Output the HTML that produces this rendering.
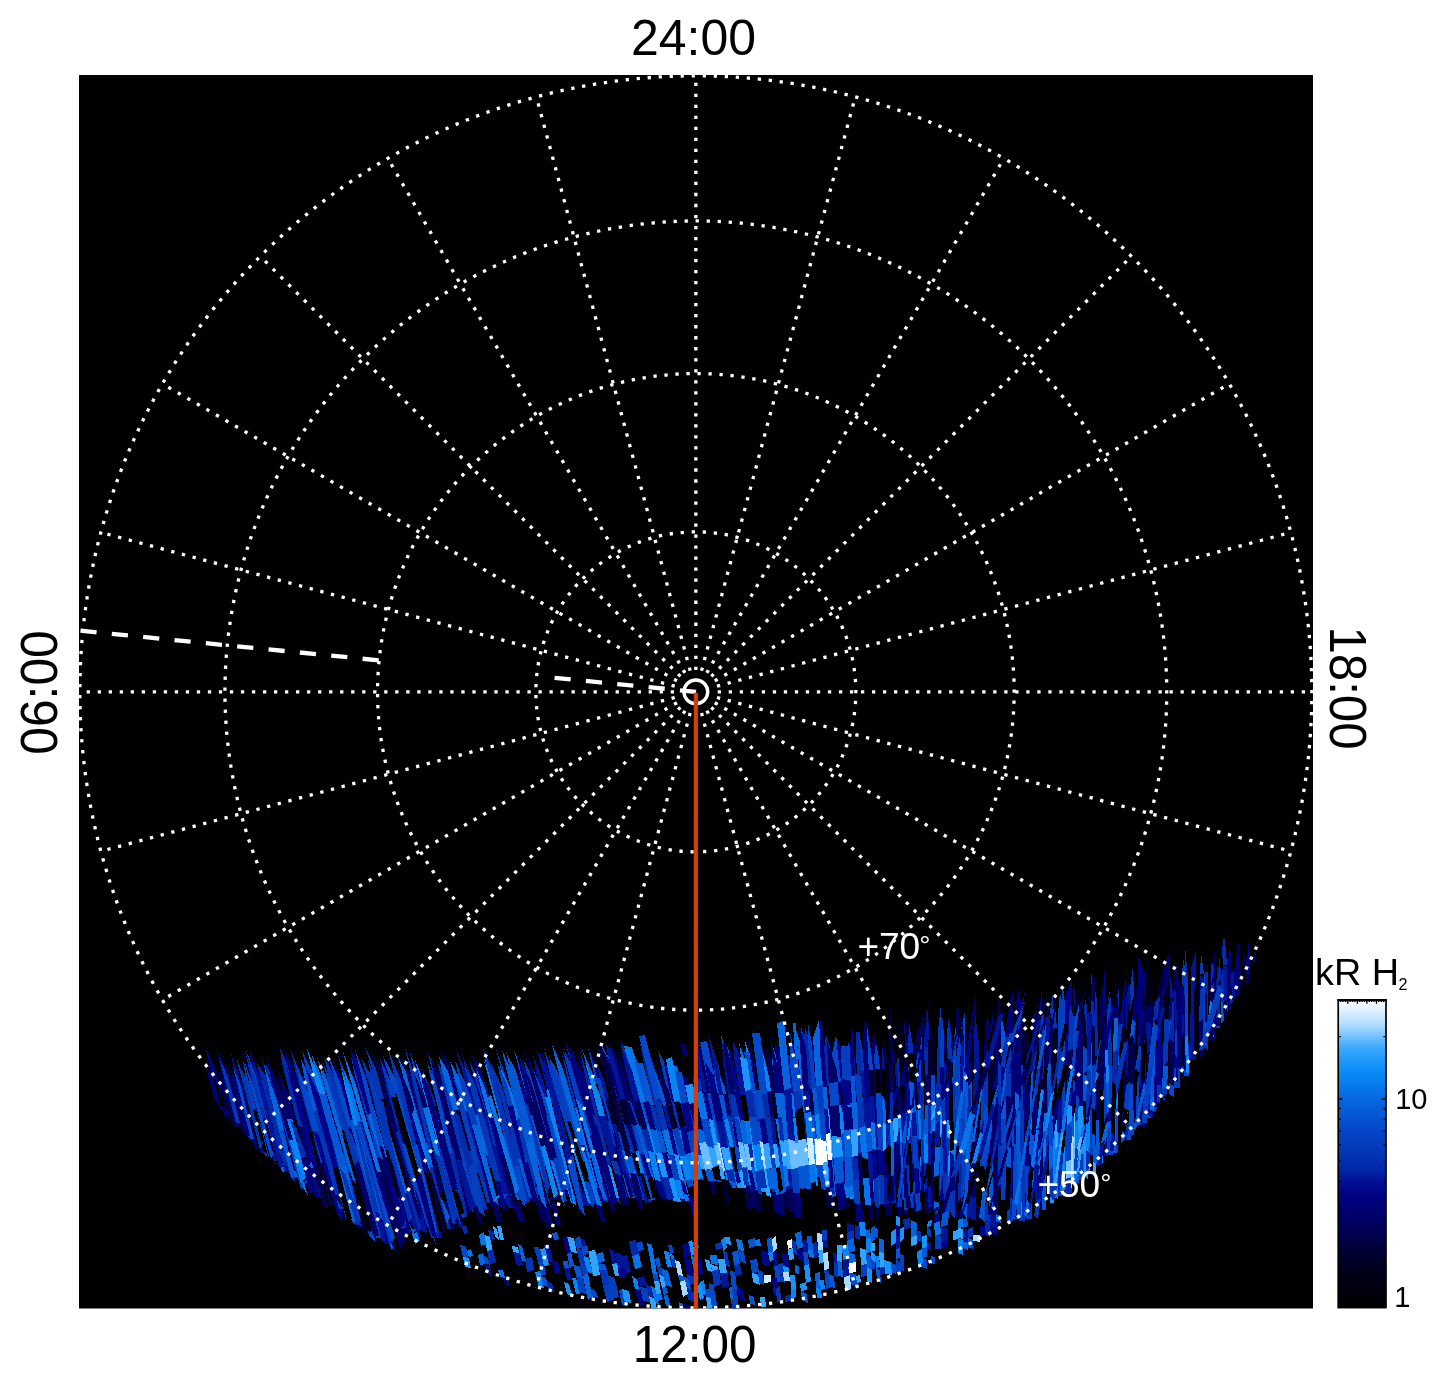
<!DOCTYPE html>
<html lang="en"><head><meta charset="utf-8"><title>Polar projection 24:00 06:00 12:00 18:00 kR H2</title>
<style>
html,body{margin:0;padding:0;background:#fff}
svg{display:block;will-change:transform}
text{font-family:"Liberation Sans","DejaVu Sans",sans-serif}
</style></head><body>
<svg width="1447" height="1384" viewBox="0 0 1447 1384">
<defs>
<clipPath id="box"><rect x="79" y="75" width="1234" height="1233.5"/></clipPath>
<linearGradient id="cb" x1="0" y1="0" x2="0" y2="1"><stop offset="0.000" stop-color="#ffffff"/><stop offset="0.081" stop-color="#b0dcff"/><stop offset="0.156" stop-color="#3aa8ff"/><stop offset="0.231" stop-color="#0a8cf8"/><stop offset="0.322" stop-color="#0668e0"/><stop offset="0.419" stop-color="#0448c8"/><stop offset="0.488" stop-color="#0338b8"/><stop offset="0.548" stop-color="#0228a8"/><stop offset="0.608" stop-color="#00088e"/><stop offset="0.647" stop-color="#000080"/><stop offset="0.728" stop-color="#000060"/><stop offset="0.808" stop-color="#000038"/><stop offset="0.888" stop-color="#000018"/><stop offset="1.000" stop-color="#000002"/></linearGradient>
</defs>
<rect width="1447" height="1384" fill="#fff"/>
<rect x="79" y="75" width="1234" height="1233.5" fill="#000"/>
<g clip-path="url(#box)">
<g shape-rendering="crispEdges" stroke="none">
<path fill="#acdaff" d="M716 1143L720 1143L725 1171L721 1171ZM728 1144L733 1144L738 1168L733 1168ZM817 1137L822 1137L824 1162L819 1162Z"/>
<path fill="#6bbdff" d="M759 1143L764 1143L767 1170L762 1170ZM1072 1113L1076 1113L1075 1182L1071 1182Z"/>
<path fill="#0335b5" d="M242 1111L247 1111L254 1139L249 1139ZM265 1064L275 1080L295 1150L290 1150L270 1080ZM340 1196L347 1196L353 1219L346 1219ZM342 1182L347 1182L358 1224L353 1224ZM361 1057L371 1075L390 1150L385 1150L366 1075ZM450 1180L455 1180L464 1214L459 1214ZM428 1053L439 1074L458 1146L452 1146L433 1074ZM434 1064L447 1094L462 1149L458 1149L443 1094ZM437 1061L447 1081L453 1102L448 1102L442 1081ZM448 1102L453 1102L472 1167L467 1167ZM467 1151L474 1151L490 1209L483 1209ZM470 1062L480 1083L497 1146L491 1146L474 1083ZM508 1148L512 1148L527 1204L523 1204ZM508 1135L512 1135L530 1202L526 1202ZM496 1049L508 1081L527 1152L523 1152L504 1081ZM544 1134L548 1134L562 1186L558 1186ZM562 1055L575 1088L580 1108L575 1108L570 1088ZM593 1141L598 1141L612 1193L607 1193ZM609 1151L614 1151L620 1174L615 1174ZM606 1121L610 1121L616 1146L612 1146ZM647 1155L651 1155L656 1177L652 1177ZM621 1041L629 1059L640 1103L636 1103L625 1059ZM647 1130L654 1130L660 1153L653 1153ZM699 1091L706 1091L711 1117L704 1117ZM737 1169L742 1169L744 1186L739 1186ZM753 1143L759 1143L763 1171L757 1171ZM765 1091L770 1091L773 1117L768 1117ZM801 1026L806 1046L809 1090L804 1090L801 1046ZM809 1164L814 1164L815 1182L810 1182ZM820 1113L827 1113L829 1140L822 1140ZM847 1184L852 1184L853 1198L848 1198ZM850 1158L854 1158L855 1184L851 1184ZM851 1184L855 1184L856 1196L852 1196ZM859 1031L863 1052L864 1073L857 1073L856 1052ZM871 1179L877 1179L878 1202L872 1202ZM897 1198L902 1198L902 1207L897 1207ZM902 1143L906 1143L907 1168L903 1168ZM906 1057L912 1057L912 1085L906 1085ZM906 1165L912 1165L912 1196L906 1196ZM910 1112L914 1112L915 1137L911 1137ZM915 1189L922 1189L922 1208L915 1208ZM921 1027L923 1051L923 1051L919 1051L919 1051ZM936 1178L940 1178L939 1214L935 1214ZM941 1003L942 1031L943 1057L939 1057L938 1031ZM948 1176L953 1176L953 1212L948 1212ZM952 1108L956 1108L956 1200L952 1200ZM984 1158L988 1158L988 1220L984 1220ZM1019 1065L1025 1065L1025 1174L1019 1174ZM1019 1174L1025 1174L1025 1221L1019 1221ZM1053 993L1054 1024L1053 1082L1047 1082L1048 1024ZM1047 1082L1053 1082L1052 1151L1046 1151ZM1110 989L1111 1006L1112 1077L1108 1077L1107 1006ZM1133 966L1134 995L1135 1043L1130 1043L1129 995ZM1156 1085L1162 1085L1162 1102L1156 1102ZM1183 957L1187 979L1188 1023L1183 1023L1182 979ZM1224 1002L1228 1002L1228 1011L1224 1011Z"/>
<path fill="#000012" d="M916 1010L921 1036L921 1052L914 1052L914 1036ZM919 1051L923 1051L924 1081L920 1081ZM987 1022L989 1040L989 1063L985 1063L985 1040ZM1149 959L1153 989L1152 1059L1147 1059L1148 989Z"/>
<path fill="#0984f3" d="M725 1171L731 1171L732 1180L726 1180ZM729 1118L734 1118L738 1145L733 1145ZM745 1041L752 1060L757 1093L752 1093L747 1060ZM759 1119L763 1119L767 1145L763 1145ZM775 1141L781 1141L785 1168L779 1168ZM795 1143L800 1143L803 1169L798 1169ZM823 1164L830 1164L832 1186L825 1186ZM828 1137L835 1137L836 1159L829 1159ZM837 1188L842 1188L843 1196L838 1196ZM837 1105L842 1105L844 1135L839 1135ZM921 1133L925 1133L926 1163L922 1163ZM925 1135L930 1135L930 1163L925 1163ZM928 1106L935 1106L936 1131L929 1131ZM1051 1116L1057 1116L1058 1197L1052 1197ZM1061 1120L1065 1120L1066 1190L1062 1190ZM1075 1114L1079 1114L1079 1159L1075 1159Z"/>
<path fill="#0774e8" d="M484 1054L491 1070L512 1148L508 1148L487 1070ZM575 1108L580 1108L601 1188L596 1188ZM578 1104L583 1104L604 1182L599 1182ZM653 1153L660 1153L667 1178L660 1178ZM660 1178L667 1178L672 1197L665 1197ZM667 1180L674 1180L678 1197L671 1197ZM680 1179L685 1179L690 1201L685 1201ZM742 1146L747 1146L751 1167L746 1167ZM743 1121L750 1121L754 1144L747 1144ZM756 1040L764 1072L766 1092L761 1092L759 1072ZM773 1119L779 1119L781 1141L775 1141ZM835 1133L840 1133L841 1163L836 1163ZM841 1159L846 1159L847 1187L842 1187ZM846 1106L850 1106L852 1131L848 1131ZM898 1116L902 1116L903 1142L899 1142ZM915 1110L922 1110L922 1139L915 1139ZM1043 1113L1047 1113L1046 1157L1042 1157Z"/>
<path fill="#033fbf" d="M243 1061L251 1079L270 1156L265 1156L246 1079ZM262 1104L267 1104L280 1153L275 1153ZM290 1150L295 1150L306 1189L301 1189ZM302 1050L315 1078L319 1092L312 1092L308 1078ZM340 1154L345 1154L361 1221L356 1221ZM349 1145L356 1145L383 1238L376 1238ZM351 1057L362 1076L384 1157L377 1157L355 1076ZM400 1139L405 1139L429 1228L424 1228ZM403 1132L410 1132L431 1210L424 1210ZM458 1149L462 1149L478 1206L474 1206ZM489 1121L496 1121L518 1197L511 1197ZM500 1135L505 1135L522 1200L517 1200ZM523 1059L531 1073L548 1134L544 1134L527 1073ZM558 1186L562 1186L565 1198L561 1198ZM542 1116L549 1116L570 1190L563 1190ZM564 1048L578 1082L583 1104L578 1104L573 1082ZM607 1193L612 1193L613 1198L608 1198ZM588 1048L597 1070L604 1098L600 1098L593 1070ZM617 1132L622 1132L627 1150L622 1150ZM635 1178L639 1178L645 1200L641 1200ZM636 1149L641 1149L649 1176L644 1176ZM639 1126L643 1126L651 1155L647 1155ZM634 1054L649 1084L653 1101L646 1101L642 1084ZM673 1132L677 1132L682 1155L678 1155ZM658 1050L670 1073L677 1103L670 1103L663 1073ZM683 1132L688 1132L693 1153L688 1153ZM682 1107L689 1107L694 1130L687 1130ZM687 1130L694 1130L699 1155L692 1155ZM689 1106L694 1106L699 1129L694 1129ZM701 1166L706 1166L708 1174L703 1174ZM701 1143L706 1143L712 1170L707 1170ZM707 1170L712 1170L714 1179L709 1179ZM710 1146L717 1146L721 1171L714 1171ZM700 1044L710 1063L716 1095L710 1095L704 1063ZM715 1119L721 1119L726 1145L720 1145ZM725 1147L729 1147L733 1169L729 1169ZM719 1092L724 1092L729 1120L724 1120ZM733 1145L738 1145L742 1169L737 1169ZM730 1094L735 1094L739 1117L734 1117ZM738 1147L743 1147L747 1171L742 1171ZM752 1093L757 1093L760 1117L755 1117ZM774 1167L779 1167L782 1191L777 1191ZM784 1114L788 1114L791 1140L787 1140ZM786 1088L791 1088L793 1119L788 1119ZM793 1169L798 1169L800 1191L795 1191ZM797 1115L801 1115L803 1142L799 1142ZM810 1111L816 1111L818 1139L812 1139ZM839 1135L844 1135L846 1159L841 1159ZM866 1152L870 1152L871 1181L867 1181ZM866 1102L872 1102L874 1124L868 1124ZM875 1096L882 1096L884 1125L877 1125ZM904 1198L908 1198L908 1210L904 1210ZM906 1085L912 1085L912 1111L906 1111ZM914 1052L921 1052L922 1082L915 1082ZM939 1057L943 1057L943 1099L939 1099ZM942 1122L947 1122L949 1212L944 1212ZM956 1064L961 1064L961 1145L956 1145ZM960 1119L966 1119L966 1214L960 1214ZM981 1076L986 1076L985 1166L980 1166ZM1000 1119L1007 1119L1008 1200L1001 1200ZM1007 1199L1013 1199L1013 1221L1007 1221ZM1025 1166L1031 1166L1032 1219L1026 1219ZM1060 991L1063 1014L1062 1084L1057 1084L1058 1014ZM1057 1192L1062 1192L1062 1196L1057 1196ZM1063 986L1065 1004L1065 1079L1061 1079L1061 1004ZM1061 1079L1065 1079L1065 1120L1061 1120ZM1065 1114L1072 1114L1072 1193L1065 1193ZM1079 1154L1084 1154L1084 1180L1079 1180ZM1088 1094L1093 1094L1095 1155L1090 1155ZM1103 1073L1108 1073L1109 1121L1104 1121ZM1137 1068L1142 1068L1141 1125L1136 1125ZM1147 1059L1152 1059L1152 1113L1147 1113ZM1152 1107L1157 1107L1156 1112L1151 1112ZM1174 1068L1180 1068L1180 1088L1174 1088ZM1205 972L1207 990L1206 1047L1200 1047L1201 990ZM1216 1020L1220 1020L1220 1028L1216 1028Z"/>
<path fill="#000588" d="M249 1049L258 1070L267 1104L262 1104L253 1070ZM312 1092L319 1092L336 1154L329 1154ZM377 1219L384 1219L391 1243L384 1243ZM346 1064L357 1081L365 1113L359 1113L351 1081ZM368 1052L380 1084L386 1104L381 1104L375 1084ZM484 1048L495 1074L512 1135L508 1135L491 1074ZM552 1128L557 1128L572 1184L567 1184ZM541 1049L553 1080L570 1148L565 1148L548 1080ZM596 1188L601 1188L604 1200L599 1200ZM569 1049L578 1068L598 1141L593 1141L573 1068ZM570 1047L583 1074L598 1127L593 1127L578 1074ZM584 1050L595 1079L614 1151L609 1151L590 1079ZM616 1147L622 1147L628 1173L622 1173ZM629 1102L634 1102L639 1124L634 1124ZM688 1153L693 1153L698 1178L693 1178ZM699 1132L704 1132L706 1143L701 1143ZM721 1121L725 1121L729 1147L725 1147ZM734 1117L739 1117L743 1147L738 1147ZM746 1095L752 1095L755 1118L749 1118ZM755 1092L759 1092L763 1119L759 1119ZM767 1167L771 1167L775 1193L771 1193ZM779 1168L785 1168L787 1193L781 1193ZM793 1032L800 1062L802 1091L797 1091L795 1062ZM818 1088L825 1088L827 1113L820 1113ZM829 1159L836 1159L838 1187L831 1187ZM831 1187L838 1187L838 1193L831 1193ZM837 1036L843 1057L844 1081L839 1081L838 1057ZM849 1076L856 1076L857 1102L850 1102ZM853 1156L860 1156L861 1184L854 1184ZM854 1184L861 1184L862 1198L855 1198ZM879 1176L886 1176L888 1206L881 1206ZM929 1131L936 1131L937 1156L930 1156ZM937 1066L941 1066L940 1130L936 1130ZM942 1015L946 1045L947 1122L942 1122L941 1045ZM996 1107L1001 1107L1001 1213L996 1213ZM1072 979L1072 997L1072 1074L1065 1074L1065 997ZM1073 980L1077 1005L1078 1037L1074 1037L1073 1005ZM1104 981L1107 1010L1108 1073L1103 1073L1102 1010ZM1152 1058L1157 1058L1157 1107L1152 1107ZM1157 1013L1163 1013L1162 1085L1156 1085ZM1183 1023L1188 1023L1188 1070L1183 1070Z"/>
<path fill="#0664dd" d="M291 1171L296 1171L298 1177L293 1177ZM283 1059L292 1080L314 1168L310 1168L288 1080ZM314 1118L320 1118L331 1162L325 1162ZM382 1218L388 1218L397 1249L391 1249ZM398 1057L408 1076L434 1167L429 1167L403 1076ZM450 1061L459 1077L468 1111L463 1111L454 1077ZM474 1115L478 1115L490 1155L486 1155ZM567 1184L572 1184L576 1203L571 1203ZM622 1150L627 1150L635 1178L630 1178ZM634 1124L639 1124L647 1153L642 1153ZM668 1131L673 1131L679 1155L674 1155ZM678 1155L682 1155L689 1182L685 1182ZM675 1072L682 1072L689 1107L682 1107ZM700 1114L704 1114L710 1143L706 1143ZM729 1169L733 1169L736 1188L732 1188ZM727 1045L736 1077L739 1095L734 1095L731 1077ZM750 1167L757 1167L760 1190L753 1190ZM741 1047L750 1077L752 1095L746 1095L744 1077ZM768 1117L773 1117L776 1146L771 1146ZM772 1044L778 1061L782 1094L776 1094L772 1061ZM815 1113L820 1113L822 1137L817 1137ZM836 1163L841 1163L842 1188L837 1188ZM834 1043L840 1073L841 1084L836 1084L835 1073ZM850 1102L857 1102L859 1132L852 1132ZM859 1158L866 1158L867 1181L860 1181ZM877 1125L884 1125L885 1152L878 1152ZM890 1118L895 1118L895 1146L890 1146ZM1057 1133L1062 1133L1062 1192L1057 1192ZM1082 1116L1089 1116L1090 1171L1083 1171ZM1114 1042L1119 1042L1117 1137L1112 1137Z"/>
<path fill="#0449c9" d="M383 1056L395 1078L410 1132L403 1132L388 1078ZM455 1061L469 1091L479 1130L472 1130L462 1091ZM523 1152L527 1152L539 1200L535 1200ZM549 1056L563 1082L585 1162L578 1162L556 1082ZM584 1160L589 1160L601 1205L596 1205ZM628 1154L632 1154L639 1178L635 1178ZM601 1043L612 1064L637 1149L630 1149L605 1064ZM642 1153L647 1153L653 1178L648 1178ZM654 1129L661 1129L667 1156L660 1156ZM665 1102L669 1102L677 1132L673 1132ZM697 1145L702 1145L706 1166L701 1166ZM708 1095L712 1095L715 1117L711 1117ZM711 1117L715 1117L720 1143L716 1143ZM710 1095L716 1095L721 1119L715 1119ZM733 1168L738 1168L742 1188L737 1188ZM771 1146L776 1146L779 1167L774 1167ZM778 1118L784 1118L787 1145L781 1145ZM802 1168L806 1168L807 1181L803 1181ZM797 1091L802 1091L805 1114L800 1114ZM814 1165L820 1165L821 1177L815 1177ZM819 1162L824 1162L826 1188L821 1188ZM843 1131L848 1131L850 1160L845 1160ZM845 1160L850 1160L852 1184L847 1184ZM864 1126L868 1126L870 1152L866 1152ZM906 1111L912 1111L912 1143L906 1143ZM928 1075L935 1075L935 1106L928 1106ZM939 1099L943 1099L944 1203L940 1203ZM957 1016L957 1047L956 1108L952 1108L953 1047ZM965 1011L965 1036L966 1119L960 1119L959 1036ZM985 1063L989 1063L988 1158L984 1158ZM1013 1144L1020 1144L1018 1219L1011 1219ZM1108 1119L1112 1119L1113 1155L1109 1155ZM1126 1076L1131 1076L1131 1140L1126 1140ZM1147 1113L1152 1113L1152 1118L1147 1118ZM1183 1070L1188 1070L1189 1076L1184 1076Z"/>
<path fill="#000055" d="M223 1055L236 1089L248 1133L243 1133L231 1089ZM234 1062L244 1084L249 1106L245 1106L240 1084ZM263 1063L274 1090L296 1171L291 1171L269 1090ZM300 1063L314 1095L320 1118L314 1118L308 1095ZM318 1064L328 1090L345 1154L340 1154L323 1090ZM359 1113L365 1113L389 1201L383 1201ZM377 1157L384 1157L407 1242L400 1242ZM386 1139L390 1139L403 1186L399 1186ZM373 1054L384 1072L399 1132L393 1132L378 1072ZM449 1223L454 1223L456 1229L451 1229ZM420 1062L432 1094L440 1123L435 1123L427 1094ZM435 1123L440 1123L455 1180L450 1180ZM474 1206L478 1206L483 1223L479 1223ZM492 1206L499 1206L503 1221L496 1221ZM535 1200L539 1200L545 1222L541 1222ZM516 1114L521 1114L544 1201L539 1201ZM539 1201L544 1201L551 1228L546 1228ZM531 1110L538 1110L561 1200L554 1200ZM551 1104L555 1104L573 1176L569 1176ZM608 1198L613 1198L616 1212L611 1212ZM615 1174L620 1174L627 1205L622 1205ZM619 1175L623 1175L630 1203L626 1203ZM636 1199L641 1199L644 1209L639 1209ZM623 1100L628 1100L634 1124L629 1124ZM636 1103L640 1103L646 1125L642 1125ZM665 1132L669 1132L675 1157L671 1157ZM655 1055L665 1083L669 1102L665 1102L661 1083ZM670 1103L677 1103L683 1129L676 1129ZM684 1083L689 1083L694 1106L689 1106ZM709 1179L714 1179L717 1194L712 1194ZM694 1086L698 1086L704 1114L700 1114ZM744 1188L749 1188L752 1210L747 1210ZM764 1116L769 1116L771 1141L766 1141ZM766 1045L773 1068L776 1094L770 1094L767 1068ZM786 1186L792 1186L795 1211L789 1211ZM813 1083L818 1083L820 1113L815 1113ZM834 1110L839 1110L840 1133L835 1133ZM843 1198L848 1198L849 1208L844 1208ZM844 1080L848 1080L850 1106L846 1106ZM860 1181L867 1181L868 1205L861 1205ZM868 1200L872 1200L874 1220L870 1220ZM874 1150L878 1150L879 1180L875 1180ZM874 1069L881 1069L882 1096L875 1096ZM883 1038L888 1064L888 1064L882 1064L882 1064ZM886 1202L892 1202L892 1216L886 1216ZM889 1063L894 1063L894 1090L889 1090ZM897 1207L902 1207L903 1215L898 1215ZM896 1088L900 1088L902 1116L898 1116ZM906 1143L912 1143L912 1165L906 1165ZM906 1196L912 1196L912 1208L906 1208ZM912 1164L916 1164L917 1193L913 1193ZM930 1156L937 1156L937 1189L930 1189ZM957 1001L961 1020L961 1064L956 1064L956 1020ZM1039 1095L1044 1095L1043 1150L1038 1150ZM1047 1009L1047 1035L1047 1113L1043 1113L1043 1035ZM1092 1056L1098 1056L1099 1120L1093 1120ZM1102 981L1104 1009L1104 1090L1099 1090L1099 1009ZM1141 961L1143 984L1142 1068L1137 1068L1138 984ZM1139 1087L1146 1087L1147 1121L1140 1121ZM1164 1092L1170 1092L1170 1094L1164 1094ZM1223 948L1228 981L1228 1002L1224 1002L1224 981ZM1245 950L1249 971L1249 983L1242 983L1242 971Z"/>
<path fill="#000040" d="M241 1049L255 1079L277 1159L270 1159L248 1079ZM342 1065L356 1097L360 1113L354 1113L350 1097ZM383 1201L389 1201L402 1246L396 1246ZM357 1053L369 1083L384 1144L380 1144L365 1083ZM434 1211L440 1211L446 1232L440 1232ZM440 1050L450 1067L474 1151L467 1151L443 1067ZM485 1194L490 1194L494 1209L489 1209ZM523 1047L539 1080L549 1116L542 1116L532 1080ZM569 1176L573 1176L580 1202L576 1202ZM576 1202L580 1202L582 1211L578 1211ZM561 1116L566 1116L587 1193L582 1193ZM603 1099L609 1099L616 1124L610 1124ZM617 1047L624 1063L634 1102L629 1102L619 1063ZM648 1178L653 1178L659 1200L654 1200ZM652 1177L656 1177L662 1197L658 1197ZM640 1104L647 1104L654 1130L647 1130ZM646 1101L653 1101L661 1129L654 1129ZM648 1048L659 1075L666 1105L661 1105L654 1075ZM723 1186L727 1186L730 1204L726 1204ZM753 1190L760 1190L763 1212L756 1212ZM770 1094L776 1094L779 1119L773 1119ZM781 1193L787 1193L789 1210L783 1210ZM825 1186L832 1186L833 1208L826 1208ZM826 1086L833 1086L834 1112L827 1112ZM832 1048L837 1068L838 1084L833 1084L832 1068ZM858 1104L865 1104L865 1128L858 1128ZM876 1200L880 1200L880 1218L876 1218ZM891 1026L895 1053L895 1064L890 1064L890 1053ZM891 1088L896 1088L898 1118L893 1118ZM896 1171L901 1171L902 1198L897 1198ZM909 1082L913 1082L914 1112L910 1112ZM925 1163L930 1163L930 1189L925 1189ZM926 1008L934 1041L934 1043L927 1043L927 1041ZM930 1189L937 1189L938 1210L931 1210ZM956 1145L961 1145L960 1218L955 1218ZM976 1205L980 1205L980 1220L976 1220ZM1007 1112L1013 1112L1013 1199L1007 1199ZM1023 1017L1029 1044L1029 1091L1023 1091L1023 1044ZM1032 1048L1037 1048L1035 1135L1030 1135ZM1074 1037L1078 1037L1079 1114L1075 1114ZM1081 1037L1088 1037L1089 1116L1082 1116ZM1115 976L1120 1006L1119 1042L1114 1042L1115 1006ZM1123 1036L1128 1036L1128 1085L1123 1085ZM1130 1043L1135 1043L1136 1130L1131 1130ZM1164 965L1164 987L1163 1013L1157 1013L1158 987Z"/>
<path fill="#1994fa" d="M667 1154L671 1154L677 1180L673 1180ZM757 1171L763 1171L766 1192L760 1192ZM781 1145L787 1145L790 1167L784 1167ZM787 1140L791 1140L793 1167L789 1167ZM799 1142L803 1142L806 1168L802 1168ZM803 1140L808 1140L810 1165L805 1165ZM947 1120L952 1120L953 1176L948 1176ZM1078 1106L1083 1106L1084 1154L1079 1154Z"/>
<path fill="#00002e" d="M245 1106L249 1106L260 1147L256 1147ZM283 1103L289 1103L307 1175L301 1175ZM301 1175L307 1175L311 1192L305 1192ZM349 1172L353 1172L368 1233L364 1233ZM424 1228L429 1228L430 1232L425 1232ZM411 1139L416 1139L427 1180L422 1180ZM489 1155L494 1155L508 1206L503 1206ZM660 1129L664 1129L671 1154L667 1154ZM716 1093L720 1093L725 1121L721 1121ZM719 1046L728 1079L730 1091L725 1091L723 1079ZM725 1091L730 1091L734 1118L729 1118ZM776 1094L782 1094L784 1118L778 1118ZM833 1084L838 1084L839 1110L834 1110ZM883 1094L889 1094L890 1123L884 1123ZM889 1090L894 1090L895 1118L890 1118ZM927 1043L934 1043L935 1075L928 1075ZM987 1025L991 1055L992 1117L987 1117L986 1055ZM992 1008L996 1023L996 1105L992 1105L992 1023ZM1037 992L1038 1015L1038 1099L1034 1099L1034 1015ZM1065 1074L1072 1074L1072 1114L1065 1114ZM1127 973L1129 988L1128 1036L1123 1036L1124 988ZM1237 940L1241 973L1241 990L1236 990L1236 973Z"/>
<path fill="#ffffff" d="M812 1139L818 1139L820 1165L814 1165Z"/>
<path fill="#011599" d="M247 1099L251 1099L265 1153L261 1153ZM283 1165L290 1165L291 1171L284 1171ZM310 1168L314 1168L322 1198L318 1198ZM329 1154L336 1154L347 1196L340 1196ZM323 1109L328 1109L347 1182L342 1182ZM397 1197L402 1197L411 1232L406 1232ZM404 1193L409 1193L421 1237L416 1237ZM389 1054L401 1082L416 1139L411 1139L396 1082ZM422 1180L427 1180L442 1238L437 1238ZM463 1111L468 1111L490 1194L485 1194ZM456 1048L467 1074L478 1115L474 1115L463 1074ZM462 1054L474 1081L479 1101L474 1101L469 1081ZM491 1146L497 1146L514 1208L508 1208ZM473 1056L486 1085L496 1121L489 1121L479 1085ZM508 1060L519 1091L527 1124L523 1124L515 1091ZM523 1124L527 1124L541 1179L537 1179ZM520 1058L531 1081L538 1110L531 1110L524 1081ZM537 1051L546 1069L555 1104L551 1104L542 1069ZM582 1193L587 1193L591 1206L586 1206ZM593 1057L604 1079L609 1099L603 1099L598 1079ZM610 1124L616 1124L622 1147L616 1147ZM630 1178L635 1178L641 1199L636 1199ZM609 1045L617 1061L628 1100L623 1100L612 1061ZM714 1171L721 1171L723 1182L716 1182ZM724 1120L729 1120L733 1144L728 1144ZM737 1117L742 1117L747 1146L742 1146ZM746 1167L751 1167L755 1190L750 1190ZM733 1041L741 1058L747 1095L740 1095L734 1058ZM805 1112L810 1112L812 1137L807 1137ZM836 1084L841 1084L842 1105L837 1105ZM841 1104L846 1104L848 1131L843 1131ZM852 1039L856 1070L856 1076L849 1076L849 1070ZM861 1071L865 1071L867 1101L863 1101ZM863 1101L867 1101L868 1126L864 1126ZM867 1181L871 1181L872 1200L868 1200ZM884 1123L890 1123L890 1146L884 1146ZM890 1172L895 1172L896 1200L891 1200ZM895 1063L899 1063L900 1088L896 1088ZM899 1142L903 1142L904 1168L900 1168ZM909 1056L913 1056L913 1082L909 1082ZM915 1082L922 1082L922 1110L915 1110ZM927 1008L929 1028L929 1047L924 1047L924 1028ZM949 1015L952 1036L952 1120L947 1120L947 1036ZM966 1168L973 1168L973 1218L966 1218ZM975 1013L979 1043L978 1119L973 1119L974 1043ZM971 1197L976 1197L976 1220L971 1220ZM1034 1150L1038 1150L1039 1212L1035 1212ZM1057 1084L1062 1084L1062 1133L1057 1133ZM1104 1121L1109 1121L1109 1156L1104 1156ZM1129 983L1131 999L1131 1076L1126 1076L1126 999ZM1138 1037L1145 1037L1146 1087L1139 1087ZM1196 950L1196 969L1195 1060L1190 1060L1191 969ZM1218 960L1220 986L1220 1020L1216 1020L1216 986Z"/>
<path fill="#00001d" d="M206 1049L221 1076L230 1110L223 1110L214 1076ZM658 1105L662 1105L669 1132L665 1132ZM677 1105L682 1105L688 1132L683 1132ZM865 1019L869 1037L871 1070L865 1070L863 1037ZM865 1070L871 1070L872 1102L866 1102ZM878 1034L880 1055L881 1069L874 1069L873 1055ZM882 1064L888 1064L889 1094L883 1094ZM901 1010L904 1042L905 1060L901 1060L900 1042ZM901 1086L905 1086L906 1113L902 1113ZM909 1022L911 1040L912 1057L906 1057L905 1040ZM969 1018L972 1037L972 1082L965 1082L965 1037ZM1022 1005L1024 1035L1025 1065L1019 1065L1018 1035ZM1050 1012L1056 1041L1057 1116L1051 1116L1050 1041ZM1197 962L1200 995L1200 1056L1194 1056L1194 995ZM1221 970L1226 1004L1226 1022L1221 1022L1221 1004ZM1243 954L1245 979L1245 987L1241 987L1241 979Z"/>
<path fill="#022aaa" d="M237 1059L248 1086L251 1099L247 1099L244 1086ZM257 1063L268 1079L290 1165L283 1165L261 1079ZM291 1051L305 1083L324 1155L317 1155L298 1083ZM354 1113L360 1113L388 1218L382 1218ZM393 1132L399 1132L412 1185L406 1185ZM380 1059L393 1093L405 1139L400 1139L388 1093ZM424 1210L431 1210L438 1238L431 1238ZM429 1167L434 1167L451 1229L446 1229ZM410 1062L421 1091L440 1161L436 1161L417 1091ZM486 1155L490 1155L503 1204L499 1204ZM509 1125L516 1125L535 1199L528 1199ZM546 1054L558 1085L566 1116L561 1116L553 1085ZM557 1056L566 1076L589 1160L584 1160L561 1076ZM599 1182L604 1182L609 1202L604 1202ZM637 1175L644 1175L652 1202L645 1202ZM629 1124L634 1124L641 1149L636 1149ZM660 1156L667 1156L674 1180L667 1180ZM640 1043L649 1068L658 1103L654 1103L645 1068ZM654 1103L658 1103L664 1129L660 1129ZM644 1042L652 1060L662 1105L658 1105L648 1060ZM667 1061L672 1061L682 1105L677 1105ZM710 1040L718 1063L724 1092L719 1092L713 1063ZM723 1038L731 1069L735 1094L730 1094L726 1069ZM747 1144L754 1144L757 1167L750 1167ZM755 1117L760 1117L764 1143L759 1143ZM766 1141L771 1141L774 1166L769 1166ZM769 1166L774 1166L777 1192L772 1192ZM759 1035L767 1067L770 1091L765 1091L762 1067ZM784 1167L790 1167L792 1186L786 1186ZM782 1093L786 1093L788 1114L784 1114ZM790 1031L796 1062L799 1087L795 1087L792 1062ZM805 1165L810 1165L812 1184L807 1184ZM805 1027L810 1041L814 1088L808 1088L804 1041ZM826 1034L831 1050L833 1086L826 1086L824 1050ZM848 1131L852 1131L854 1158L850 1158ZM858 1128L865 1128L866 1158L859 1158ZM878 1152L885 1152L886 1176L879 1176ZM891 1200L896 1200L896 1203L891 1203ZM911 1137L915 1137L916 1164L912 1164ZM920 1081L924 1081L924 1105L920 1105ZM922 1163L926 1163L927 1192L923 1192ZM924 1047L929 1047L930 1075L925 1075ZM1041 1011L1044 1034L1044 1095L1039 1095L1039 1034ZM1086 997L1088 1024L1088 1037L1081 1037L1081 1024ZM1091 972L1097 999L1098 1056L1092 1056L1091 999ZM1094 1163L1100 1163L1100 1165L1094 1165ZM1108 1077L1112 1077L1112 1119L1108 1119ZM1220 955L1221 981L1220 1018L1216 1018L1217 981Z"/>
<path fill="#0557d3" d="M321 1063L332 1093L353 1172L349 1172L328 1093ZM349 1120L356 1120L384 1219L377 1219ZM381 1104L386 1104L409 1193L404 1193ZM506 1052L516 1071L535 1139L530 1139L511 1071ZM529 1115L533 1115L546 1166L542 1166ZM622 1173L628 1173L635 1198L629 1198ZM644 1176L649 1176L655 1200L650 1200ZM649 1151L653 1151L661 1179L657 1179ZM682 1155L689 1155L694 1177L687 1177ZM699 1043L708 1073L712 1095L708 1095L704 1073ZM720 1145L726 1145L731 1171L725 1171ZM762 1170L767 1170L770 1190L765 1190ZM798 1169L803 1169L805 1186L800 1186ZM843 1042L847 1068L848 1080L844 1080L843 1068ZM874 1126L878 1126L878 1150L874 1150ZM902 1113L906 1113L906 1143L902 1143ZM920 1105L924 1105L925 1133L921 1133ZM925 1105L930 1105L930 1135L925 1135ZM965 1082L972 1082L973 1168L966 1168ZM987 1117L992 1117L994 1208L989 1208ZM1002 1019L1006 1038L1007 1119L1000 1119L999 1038ZM1030 1135L1035 1135L1034 1188L1029 1188ZM1042 1157L1046 1157L1046 1210L1042 1210ZM1075 1159L1079 1159L1079 1183L1075 1183ZM1087 1043L1092 1043L1093 1094L1088 1094ZM1093 1120L1099 1120L1100 1163L1094 1163ZM1112 1137L1117 1137L1117 1153L1112 1153Z"/>
<path fill="#000078" d="M204 1060L218 1090L222 1103L216 1103L212 1090ZM284 1049L297 1076L318 1156L311 1156L290 1076ZM317 1155L324 1155L337 1206L330 1206ZM356 1221L361 1221L363 1228L358 1228ZM345 1146L350 1146L373 1232L368 1232ZM326 1057L339 1083L356 1145L349 1145L332 1083ZM332 1058L347 1090L356 1120L349 1120L340 1090ZM396 1061L410 1093L413 1104L407 1104L404 1093ZM443 1201L448 1201L454 1223L449 1223ZM449 1211L453 1211L457 1224L453 1224ZM411 1057L421 1072L441 1145L435 1145L415 1072ZM435 1145L441 1145L461 1217L455 1217ZM467 1167L472 1167L485 1212L480 1212ZM472 1130L479 1130L499 1206L492 1206ZM537 1179L541 1179L547 1200L543 1200ZM543 1200L547 1200L553 1224L549 1224ZM516 1062L523 1076L533 1115L529 1115L519 1076ZM551 1201L555 1201L561 1226L557 1226ZM563 1190L570 1190L572 1196L565 1196ZM565 1148L570 1148L585 1205L580 1205ZM600 1098L604 1098L610 1121L606 1121ZM597 1045L609 1075L632 1154L628 1154L605 1075ZM630 1149L637 1149L644 1175L637 1175ZM621 1051L632 1080L637 1102L633 1102L628 1080ZM642 1125L646 1125L653 1151L649 1151ZM688 1196L692 1196L698 1222L694 1222ZM704 1117L711 1117L717 1146L710 1146ZM772 1192L777 1192L780 1213L775 1213ZM789 1167L793 1167L796 1192L792 1192ZM795 1191L800 1191L802 1217L797 1217ZM800 1114L805 1114L808 1140L803 1140ZM804 1090L809 1090L810 1112L805 1112ZM827 1112L834 1112L835 1137L828 1137ZM838 1196L843 1196L843 1210L838 1210ZM855 1198L862 1198L863 1222L856 1222ZM869 1154L875 1154L877 1179L871 1179ZM885 1174L891 1174L892 1202L886 1202ZM889 1033L894 1060L894 1063L889 1063L889 1060ZM901 1060L905 1060L905 1086L901 1086ZM904 1210L908 1210L908 1214L904 1214ZM908 1021L912 1041L913 1056L909 1056L908 1041ZM925 1075L930 1075L930 1105L925 1105ZM936 1130L940 1130L940 1178L936 1178ZM989 1208L994 1208L994 1212L989 1212ZM989 1212L994 1212L994 1214L989 1214ZM998 1009L1001 1026L1001 1107L996 1107L996 1026ZM1019 988L1022 1008L1021 1065L1014 1065L1015 1008ZM1014 1065L1021 1065L1020 1144L1013 1144ZM1023 1091L1029 1091L1031 1166L1025 1166ZM1036 1005L1037 1029L1037 1048L1032 1048L1032 1029ZM1034 1099L1038 1099L1038 1150L1034 1150ZM1081 998L1082 1019L1083 1106L1078 1106L1077 1019ZM1083 1171L1090 1171L1090 1175L1083 1175ZM1088 994L1092 1017L1092 1043L1087 1043L1087 1017ZM1123 1085L1128 1085L1127 1139L1122 1139ZM1138 957L1145 972L1145 1037L1138 1037L1138 972ZM1156 1102L1162 1102L1162 1104L1156 1104ZM1162 1018L1166 1018L1165 1096L1161 1096ZM1181 976L1185 998L1185 1069L1180 1069L1180 998ZM1216 1018L1220 1018L1220 1026L1216 1026ZM1239 940L1239 971L1239 995L1234 995L1234 971Z"/>
<path fill="#33a4fe" d="M807 1137L812 1137L814 1164L809 1164ZM822 1140L829 1140L830 1164L823 1164ZM852 1132L859 1132L860 1156L853 1156ZM893 1118L898 1118L899 1142L894 1142Z"/>
<path fill="#000068" d="M223 1110L230 1110L232 1118L225 1118ZM216 1048L229 1074L242 1127L235 1127L222 1074ZM275 1153L280 1153L284 1165L279 1165ZM293 1177L298 1177L298 1179L293 1179ZM325 1162L331 1162L345 1217L339 1217ZM396 1246L402 1246L403 1249L397 1249ZM380 1144L384 1144L406 1229L402 1229ZM407 1104L413 1104L440 1211L434 1211ZM402 1057L414 1084L431 1143L426 1143L409 1084ZM455 1217L461 1217L464 1227L458 1227ZM437 1112L444 1112L469 1211L462 1211ZM452 1146L458 1146L475 1211L469 1211ZM512 1201L519 1201L525 1221L518 1221ZM530 1139L535 1139L553 1200L548 1200ZM596 1205L601 1205L606 1222L601 1222ZM593 1127L598 1127L618 1199L613 1199ZM576 1050L591 1084L605 1134L600 1134L586 1084ZM612 1146L616 1146L623 1175L619 1175ZM657 1179L661 1179L666 1199L662 1199ZM676 1178L680 1178L685 1202L681 1202ZM674 1155L679 1155L685 1179L680 1179ZM694 1129L699 1129L702 1145L697 1145ZM680 1044L685 1044L688 1056L683 1056ZM693 1104L698 1104L704 1132L699 1132ZM711 1169L715 1169L716 1176L712 1176ZM721 1171L725 1171L727 1186L723 1186ZM709 1044L717 1076L720 1093L716 1093L713 1076ZM742 1171L747 1171L749 1188L744 1188ZM750 1190L755 1190L757 1207L752 1207ZM749 1118L755 1118L759 1143L753 1143ZM747 1033L755 1064L759 1092L755 1092L751 1064ZM761 1092L766 1092L769 1116L764 1116ZM777 1191L782 1191L785 1215L780 1215ZM777 1038L783 1065L786 1093L782 1093L779 1065ZM792 1192L796 1192L798 1218L794 1218ZM788 1119L793 1119L795 1144L790 1144ZM808 1088L814 1088L816 1111L810 1111ZM812 1037L817 1071L818 1083L813 1083L812 1071ZM874 1029L876 1046L876 1072L872 1072L872 1046ZM873 1097L877 1097L878 1126L874 1126ZM875 1180L879 1180L880 1200L876 1200ZM894 1142L899 1142L901 1171L896 1171ZM903 1168L907 1168L908 1198L904 1198ZM913 1193L917 1193L917 1212L913 1212ZM915 1164L922 1164L922 1189L915 1189ZM925 1189L930 1189L930 1213L925 1213ZM973 1119L978 1119L976 1197L971 1197ZM979 1209L984 1209L984 1219L979 1219ZM992 1105L996 1105L997 1156L993 1156ZM993 1156L997 1156L997 1217L993 1217ZM1011 992L1014 1026L1013 1060L1007 1060L1008 1026ZM1007 1060L1013 1060L1013 1112L1007 1112ZM1038 1150L1043 1150L1042 1207L1037 1207ZM1169 951L1170 970L1170 995L1164 995L1164 970ZM1177 960L1179 986L1180 1068L1174 1068L1173 986ZM1215 948L1216 979L1216 1040L1209 1040L1209 979ZM1230 943L1231 959L1232 1009L1228 1009L1227 959Z"/>
<path fill="#00002e" d="M619 1099L625 1099L631 1126L625 1124ZM905 1057L908 1057L909 1085L906 1084ZM1010 1031L1005 1058L1004 1060L1000 1060L1001 1058ZM1044 984L1044 1012L1044 1016L1041 1016L1041 1012ZM1054 1028L1057 1026L1057 1066L1054 1070ZM1083 1006L1086 1024L1087 1045L1083 1045L1082 1024ZM1127 995L1132 1026L1133 1046L1128 1046L1127 1026ZM1232 972L1233 996L1233 996L1230 996L1230 996ZM1243 949L1245 969L1245 969L1242 969L1242 969ZM1242 981L1245 985L1245 981L1242 983Z"/>
<path fill="#0984f3" d="M284 1119L290 1111L307 1175L301 1184ZM415 1060L423 1079L441 1144L438 1144L420 1079ZM543 1097L548 1088L576 1205L571 1203ZM619 1126L623 1127L631 1152L627 1153ZM632 1150L638 1149L644 1173L638 1174ZM645 1125L653 1123L661 1156L653 1154ZM744 1167L751 1168L754 1186L747 1185ZM792 1118L796 1118L799 1145L795 1143ZM806 1141L812 1142L814 1164L808 1166ZM812 1163L816 1162L818 1186L814 1185ZM836 1106L842 1108L845 1133L839 1134ZM847 1104L852 1105L853 1132L848 1132ZM925 1142L929 1142L922 1166L918 1166ZM941 1103L943 1102L937 1127L935 1131ZM940 1088L945 1093L943 1121L938 1121ZM980 1132L984 1130L976 1163L972 1163ZM1018 1186L1021 1187L1022 1217L1019 1217ZM1100 1154L1104 1151L1103 1163L1099 1160ZM1105 1050L1108 1050L1109 1080L1106 1083ZM1116 1088L1118 1092L1118 1104L1116 1109ZM1211 1033L1214 1035L1213 1040L1210 1036Z"/>
<path fill="#ffffff" d="M819 1140L826 1139L827 1162L820 1163Z"/>
<path fill="#022aaa" d="M280 1048L287 1063L303 1126L298 1126L282 1063ZM407 1191L411 1192L423 1228L419 1231ZM422 1068L434 1098L436 1106L432 1106L430 1098ZM590 1114L596 1115L621 1205L615 1198ZM617 1146L621 1147L629 1173L625 1175ZM653 1154L661 1155L667 1177L659 1177ZM670 1157L674 1156L680 1181L676 1181ZM679 1103L686 1102L693 1131L686 1133ZM728 1095L732 1095L736 1120L732 1119ZM760 1093L768 1095L772 1116L764 1117ZM799 1113L802 1112L804 1144L801 1143ZM804 1117L810 1118L812 1141L806 1141ZM810 1046L811 1060L813 1089L809 1089L807 1060ZM856 1032L860 1032L861 1074L857 1075ZM857 1103L861 1102L862 1127L858 1127ZM887 1123L890 1123L884 1147L881 1147ZM911 1030L908 1049L906 1058L904 1058L906 1049ZM960 1089L963 1089L962 1115L959 1118ZM959 1164L962 1164L961 1206L958 1203ZM968 1087L971 1089L970 1131L967 1129ZM984 1059L988 1056L988 1080L984 1082ZM1021 1009L1023 1012L1015 1051L1013 1050ZM998 1123L1000 1121L997 1142L995 1140ZM995 1140L997 1143L991 1171L989 1169ZM1035 1047L1037 1050L1031 1095L1029 1098ZM1060 1150L1064 1148L1060 1190L1056 1194ZM1092 1060L1095 1061L1096 1105L1093 1108ZM1118 974L1119 999L1119 1006L1117 1006L1117 999ZM1126 1123L1130 1122L1127 1138L1123 1139ZM1169 998L1174 1002L1174 1042L1169 1038ZM1185 946L1188 978L1188 989L1185 989L1185 978ZM1224 969L1221 987L1218 1005L1215 1005L1218 987ZM1205 972L1208 968L1208 1022L1205 1026ZM1230 996L1233 999L1233 1001L1230 1005Z"/>
<path fill="#000040" d="M1049 992L1045 1007L1041 1020L1038 1020L1042 1007ZM1141 980L1145 998L1145 1010L1141 1010L1141 998ZM1141 1027L1145 1031L1145 1040L1141 1042ZM1174 963L1175 981L1176 991L1174 991L1173 981Z"/>
<path fill="#000068" d="M219 1068L230 1097L238 1123L233 1123L225 1097ZM271 1067L282 1092L290 1119L284 1119L276 1092ZM298 1126L303 1127L313 1160L308 1167ZM289 1054L299 1085L312 1136L308 1136L295 1085ZM382 1054L388 1072L406 1144L403 1144L385 1072ZM400 1072L411 1103L413 1109L408 1109L406 1103ZM529 1103L535 1099L560 1200L554 1191ZM556 1055L566 1082L586 1156L583 1156L563 1082ZM596 1044L608 1071L616 1102L612 1102L604 1071ZM625 1124L631 1124L638 1151L632 1150ZM693 1102L697 1101L703 1129L699 1129ZM697 1046L701 1047L710 1093L706 1094ZM746 1093L750 1093L753 1118L749 1117ZM764 1061L771 1086L773 1094L769 1094L767 1086ZM830 1039L832 1064L833 1085L830 1085L829 1064ZM904 1058L906 1058L900 1089L898 1090ZM907 1086L912 1085L907 1112L902 1113ZM929 1001L925 1034L922 1051L920 1051L923 1034ZM920 1051L922 1052L917 1078L915 1079ZM910 1197L914 1196L912 1203L908 1204ZM949 1071L951 1069L943 1103L941 1103ZM976 993L976 1008L973 1030L970 1030L973 1008ZM962 1017L964 1041L964 1041L961 1041L961 1041ZM972 1163L976 1168L961 1221L957 1217ZM988 1010L989 1029L988 1059L984 1059L985 1029ZM1024 1067L1027 1071L1017 1099L1014 1100ZM1006 1096L1011 1100L1011 1127L1006 1128ZM1006 1128L1011 1132L1011 1146L1006 1149ZM1040 1052L1043 1047L1042 1101L1039 1102ZM1117 1006L1119 1010L1118 1055L1116 1052ZM1128 1046L1133 1048L1133 1083L1128 1084ZM1146 1006L1151 1002L1151 1024L1146 1022ZM1147 1054L1152 1051L1152 1098L1147 1099ZM1163 1068L1166 1063L1164 1089L1161 1094ZM1169 1038L1174 1042L1174 1056L1169 1059ZM1185 989L1188 992L1188 1012L1185 1017ZM1215 1005L1218 1003L1214 1034L1211 1033ZM1199 1022L1203 1019L1203 1058L1199 1055Z"/>
<path fill="#1994fa" d="M627 1153L631 1152L637 1176L633 1174ZM666 1179L674 1178L681 1202L673 1201ZM674 1154L678 1153L684 1180L680 1180ZM708 1168L712 1167L714 1177L710 1177ZM733 1172L742 1172L746 1188L737 1188ZM749 1117L753 1117L756 1147L752 1146ZM811 1142L815 1143L816 1164L812 1163ZM849 1183L854 1184L855 1198L850 1199ZM1084 1125L1088 1122L1088 1179L1084 1176Z"/>
<path fill="#000588" d="M205 1045L217 1076L225 1109L220 1109L212 1076ZM337 1210L343 1207L343 1212L337 1212ZM350 1047L359 1064L374 1116L368 1116L353 1064ZM414 1187L417 1193L428 1229L425 1235ZM408 1109L413 1114L429 1173L424 1171ZM589 1154L592 1159L604 1206L601 1201ZM612 1158L617 1160L621 1173L616 1175ZM611 1050L623 1073L631 1100L626 1100L618 1073ZM659 1152L667 1153L674 1177L666 1179ZM648 1068L656 1085L661 1104L657 1104L652 1085ZM668 1127L672 1129L678 1155L674 1154ZM680 1180L684 1181L688 1195L684 1194ZM663 1058L672 1084L676 1102L672 1102L668 1084ZM694 1067L698 1067L703 1093L699 1093ZM699 1093L703 1094L709 1121L705 1121ZM717 1094L726 1096L731 1115L722 1117ZM732 1119L736 1118L740 1148L736 1146ZM821 1017L823 1032L827 1086L823 1086L819 1032ZM841 1161L847 1161L849 1183L843 1184ZM864 1074L870 1073L871 1104L865 1102ZM871 1096L878 1095L879 1122L872 1123ZM896 1088L899 1087L890 1125L887 1123ZM913 1053L918 1052L912 1085L907 1086ZM915 1079L917 1079L912 1115L910 1113ZM904 1017L908 1050L908 1057L905 1057L905 1050ZM906 1084L909 1083L910 1114L907 1114ZM958 1029L955 1045L955 1045L951 1045L951 1045ZM920 1192L922 1192L919 1206L917 1208ZM942 1177L946 1172L943 1209L939 1204ZM970 1030L973 1034L967 1075L964 1072ZM1000 1060L1004 1057L996 1090L992 1090ZM985 1116L989 1116L984 1135L980 1132ZM1003 1099L1005 1099L1000 1119L998 1123ZM1007 1016L1012 1034L1012 1034L1007 1034L1007 1034ZM1016 1079L1019 1082L1020 1116L1017 1117ZM1042 987L1042 1003L1040 1017L1038 1017L1040 1003ZM1021 1167L1023 1169L1020 1196L1018 1192ZM1016 1208L1018 1205L1017 1218L1015 1218ZM1039 1102L1042 1098L1041 1153L1038 1150ZM1037 1177L1040 1179L1040 1210L1037 1211ZM1076 1000L1076 1033L1076 1050L1071 1050L1071 1033ZM1112 1005L1115 1009L1108 1040L1105 1036ZM1069 1183L1072 1180L1071 1181L1068 1185ZM1126 976L1125 1009L1123 1024L1119 1024L1121 1009ZM1105 966L1106 991L1106 1004L1103 1004L1103 991ZM1141 1010L1145 1012L1145 1030L1141 1027ZM1141 1098L1145 1095L1145 1127L1141 1126ZM1172 986L1172 1013L1171 1022L1168 1022L1169 1013ZM1163 1068L1165 1064L1165 1094L1163 1097ZM1175 1054L1177 1050L1178 1082L1176 1081ZM1256 950L1255 962L1255 962L1253 962L1253 962Z"/>
<path fill="#0664dd" d="M277 1156L280 1157L285 1171L282 1172ZM312 1055L322 1077L346 1172L340 1172L316 1077ZM340 1172L346 1164L358 1222L352 1222ZM368 1116L374 1108L387 1157L381 1159ZM582 1049L596 1082L597 1087L592 1087L591 1082ZM641 1150L646 1150L654 1180L649 1179ZM683 1154L687 1155L692 1179L688 1180ZM703 1145L707 1145L712 1167L708 1168ZM705 1121L709 1121L714 1144L710 1145ZM714 1169L718 1169L721 1182L717 1181ZM710 1118L714 1118L718 1141L714 1142ZM715 1116L722 1115L728 1140L721 1141ZM771 1167L779 1169L784 1193L776 1195ZM779 1093L788 1095L790 1118L781 1117ZM781 1117L790 1117L793 1141L784 1140ZM793 1023L796 1023L800 1093L797 1091ZM802 1165L805 1165L807 1189L804 1188ZM796 1029L804 1053L807 1087L801 1087L798 1053ZM819 1020L820 1037L823 1086L816 1086L813 1037ZM831 1188L835 1188L836 1196L832 1197ZM830 1085L833 1084L834 1111L831 1112ZM843 1184L849 1186L850 1193L844 1194ZM931 1120L935 1116L929 1147L925 1142ZM964 1072L967 1074L960 1121L957 1117ZM947 1189L950 1191L947 1205L944 1210ZM967 1129L970 1129L969 1163L966 1164ZM1023 1151L1025 1151L1023 1162L1021 1167Z"/>
<path fill="#33a4fe" d="M698 1155L706 1155L709 1170L701 1169ZM710 1145L714 1146L718 1168L714 1169ZM740 1169L744 1168L746 1188L742 1186ZM740 1146L747 1146L751 1167L744 1167ZM752 1146L756 1147L759 1170L755 1171ZM762 1169L767 1168L771 1197L766 1195ZM784 1140L793 1141L795 1171L786 1169ZM820 1163L827 1163L829 1187L822 1187ZM825 1109L829 1108L831 1136L827 1135ZM833 1137L836 1137L837 1165L834 1164ZM937 1098L941 1095L935 1117L931 1120ZM938 1121L943 1119L941 1139L936 1139ZM949 1118L953 1119L951 1136L947 1137ZM1054 1120L1057 1117L1058 1147L1055 1149Z"/>
<path fill="#6bbdff" d="M721 1141L728 1141L733 1167L726 1167ZM795 1143L799 1143L801 1166L797 1167ZM827 1135L831 1133L833 1159L829 1159ZM1080 1137L1083 1134L1072 1186L1069 1183Z"/>
<path fill="#033fbf" d="M237 1061L247 1080L256 1112L251 1112L242 1080ZM262 1118L265 1125L276 1165L273 1158ZM246 1050L255 1073L280 1156L277 1156L252 1073ZM275 1113L280 1110L295 1182L290 1176ZM298 1070L306 1091L324 1164L321 1164L303 1091ZM333 1195L339 1203L343 1208L337 1210ZM323 1062L337 1095L347 1130L341 1130L331 1095ZM347 1127L352 1135L383 1234L378 1237ZM338 1055L348 1080L370 1158L366 1158L344 1080ZM388 1048L397 1074L410 1126L407 1126L394 1074ZM423 1104L426 1102L448 1182L445 1190ZM438 1144L441 1142L462 1228L459 1222ZM453 1182L457 1184L466 1217L462 1218ZM471 1188L476 1180L480 1206L475 1205ZM449 1067L460 1092L482 1173L477 1173L455 1092ZM501 1189L505 1194L508 1194L504 1200ZM533 1185L539 1189L543 1188L537 1197ZM543 1181L546 1189L549 1194L546 1193ZM548 1059L558 1076L571 1120L566 1120L553 1076ZM584 1181L589 1175L597 1200L592 1208ZM633 1174L637 1174L644 1197L640 1198ZM706 1094L710 1094L714 1117L710 1118ZM751 1093L756 1093L760 1119L755 1120ZM768 1145L776 1145L779 1166L771 1167ZM776 1144L780 1144L783 1164L779 1165ZM816 1086L823 1085L825 1112L818 1113ZM849 1156L854 1157L854 1183L849 1183ZM857 1075L861 1077L861 1105L857 1103ZM858 1127L862 1128L862 1152L858 1153ZM881 1147L884 1146L876 1181L873 1181ZM910 1195L913 1196L914 1207L911 1208ZM917 1164L920 1163L921 1191L918 1191ZM918 1166L922 1166L914 1196L910 1197ZM960 1036L961 1051L957 1088L953 1088L957 1051ZM950 1168L953 1173L950 1193L947 1189ZM1007 1034L1012 1033L1011 1054L1006 1057ZM1015 1045L1018 1047L1019 1075L1016 1079ZM1028 1192L1030 1191L1030 1215L1028 1213ZM1070 1077L1075 1081L1075 1097L1070 1093ZM1113 1064L1117 1061L1110 1112L1106 1115ZM1107 1130L1110 1131L1110 1153L1107 1155ZM1116 1144L1118 1145L1118 1153L1116 1151ZM1139 1046L1143 1044L1139 1070L1135 1069ZM1175 1032L1177 1028L1177 1058L1175 1054Z"/>
<path fill="#0774e8" d="M484 1061L496 1091L503 1117L499 1117L492 1091ZM500 1066L511 1089L521 1121L515 1121L505 1089ZM624 1046L632 1047L647 1102L639 1102ZM662 1126L666 1124L674 1155L670 1157ZM677 1129L681 1130L687 1155L683 1154ZM670 1065L677 1066L686 1102L679 1103ZM735 1116L742 1118L747 1145L740 1146ZM739 1042L747 1075L750 1093L746 1093L743 1075ZM790 1093L794 1093L796 1116L792 1118ZM835 1185L838 1185L839 1196L836 1195ZM873 1181L876 1182L871 1200L868 1200ZM957 1117L960 1121L953 1172L950 1168ZM1030 1112L1032 1113L1032 1131L1030 1129ZM1038 1150L1041 1147L1040 1173L1037 1177ZM1055 1149L1058 1148L1058 1199L1055 1198ZM1096 1072L1099 1074L1095 1084L1092 1089ZM1092 1089L1095 1087L1083 1136L1080 1137ZM1093 1160L1096 1163L1096 1172L1093 1168Z"/>
<path fill="#acdaff" d="M714 1142L718 1142L724 1171L720 1171ZM758 1141L763 1142L767 1168L762 1169ZM1069 1134L1074 1129L1072 1188L1067 1188Z"/>
<path fill="#000055" d="M366 1224L372 1227L374 1237L368 1230ZM350 1070L360 1092L373 1141L367 1141L354 1092ZM500 1158L505 1151L518 1208L513 1202ZM543 1069L556 1093L562 1115L556 1115L550 1093ZM711 1093L718 1094L722 1115L715 1116ZM731 1093L738 1092L742 1116L735 1116ZM809 1089L813 1089L814 1115L810 1115ZM858 1153L862 1154L863 1182L859 1182ZM870 1073L877 1072L878 1098L871 1096ZM873 1149L880 1149L881 1176L874 1176ZM923 1019L921 1036L918 1053L913 1053L916 1036ZM951 1045L955 1044L941 1096L937 1098ZM923 1182L925 1182L922 1193L920 1192ZM1029 1098L1031 1102L1029 1117L1027 1116ZM1034 1006L1034 1031L1034 1044L1032 1044L1032 1031ZM1105 1036L1108 1034L1099 1073L1096 1072ZM1095 972L1095 997L1095 1013L1092 1013L1092 997ZM1149 993L1146 1025L1143 1046L1139 1046L1142 1025ZM1169 1059L1174 1056L1174 1082L1169 1083Z"/>
<path fill="#0557d3" d="M301 1059L310 1076L319 1111L313 1111L304 1076ZM407 1126L410 1132L436 1245L433 1236ZM445 1190L448 1193L457 1217L454 1224ZM432 1106L436 1111L457 1188L453 1182ZM518 1159L522 1158L532 1199L528 1194ZM528 1194L532 1197L533 1193L529 1197ZM510 1066L522 1098L546 1181L543 1181L519 1098ZM514 1050L529 1083L535 1103L529 1103L523 1083ZM633 1124L638 1124L646 1150L641 1150ZM639 1102L647 1103L653 1126L645 1125ZM635 1063L643 1063L654 1105L646 1105ZM653 1130L661 1130L667 1152L659 1152ZM652 1062L663 1092L667 1106L663 1106L659 1092ZM726 1167L733 1166L737 1186L730 1185ZM713 1061L725 1087L726 1094L717 1094L716 1087ZM721 1035L732 1063L738 1093L731 1093L725 1063ZM779 1165L783 1164L786 1192L782 1191ZM797 1167L801 1167L803 1189L799 1188ZM801 1087L807 1086L810 1115L804 1117ZM810 1115L814 1115L815 1143L811 1142ZM829 1159L833 1157L835 1189L831 1188ZM866 1128L872 1127L873 1151L867 1152ZM966 1164L969 1167L967 1219L964 1214ZM1006 1149L1011 1147L1011 1168L1006 1166ZM1018 1160L1021 1162L1021 1187L1018 1186ZM1031 1073L1033 1072L1032 1111L1030 1112ZM1030 1129L1032 1134L1031 1159L1029 1154ZM1069 1113L1074 1116L1074 1137L1069 1134ZM1083 1074L1087 1076L1087 1106L1083 1101ZM1106 1083L1109 1081L1110 1128L1107 1130Z"/>
<path fill="#000002" d="M251 1112L256 1109L268 1156L263 1151ZM308 1136L312 1130L324 1183L320 1182ZM320 1182L324 1186L328 1204L324 1201ZM321 1164L324 1160L336 1208L333 1209ZM341 1130L347 1133L372 1230L366 1224ZM386 1218L392 1216L401 1249L395 1252ZM380 1099L384 1097L411 1186L407 1191ZM424 1171L429 1174L444 1236L439 1231ZM435 1174L438 1178L450 1219L447 1223ZM477 1173L482 1172L493 1215L488 1211ZM487 1170L493 1166L503 1211L497 1205ZM554 1191L560 1196L561 1192L555 1197ZM556 1115L562 1109L581 1184L575 1184ZM566 1120L571 1122L589 1182L584 1181ZM592 1087L597 1082L617 1161L612 1158ZM638 1174L644 1175L651 1199L645 1200ZM649 1179L654 1185L661 1201L656 1199ZM676 1181L680 1182L684 1198L680 1197ZM701 1169L709 1168L711 1178L703 1178ZM720 1171L724 1173L727 1187L723 1186ZM769 1094L773 1094L776 1117L772 1116ZM772 1116L776 1121L780 1148L776 1144ZM797 1091L800 1096L802 1110L799 1113ZM801 1143L804 1149L805 1167L802 1165ZM808 1166L814 1162L816 1188L810 1185ZM848 1132L853 1131L854 1156L849 1156ZM859 1182L863 1186L863 1204L859 1199ZM898 1090L900 1088L893 1121L891 1122ZM886 1148L888 1151L882 1185L880 1180ZM890 1173L895 1170L890 1196L885 1200ZM910 1113L912 1112L908 1144L906 1140ZM908 1143L911 1143L912 1171L909 1166ZM909 1166L912 1168L913 1191L910 1195ZM913 1051L916 1056L917 1080L914 1079ZM914 1079L917 1075L918 1113L915 1111ZM918 1191L921 1195L922 1208L919 1206ZM935 1131L937 1126L925 1185L923 1182ZM936 1139L941 1137L939 1168L934 1171ZM939 1204L943 1199L942 1216L938 1214ZM958 1203L961 1197L961 1208L958 1212ZM992 1090L996 1085L989 1111L985 1116ZM982 1166L986 1171L985 1211L981 1209ZM989 1169L991 1165L981 1217L979 1221ZM1001 1143L1004 1138L988 1192L985 1197ZM985 1197L988 1196L984 1214L981 1213ZM1006 1166L1011 1168L1010 1208L1005 1213ZM1017 1117L1020 1116L1020 1147L1017 1144ZM1038 1017L1040 1018L1037 1051L1035 1047ZM1027 1116L1029 1120L1025 1150L1023 1151ZM1064 1062L1068 1068L1060 1101L1056 1100ZM1054 1070L1057 1069L1057 1120L1054 1120ZM1063 1123L1067 1120L1064 1153L1060 1150ZM1083 1101L1087 1101L1088 1123L1084 1125ZM1093 1108L1096 1107L1096 1159L1093 1160ZM1106 1115L1110 1112L1106 1132L1102 1137ZM1102 1137L1106 1133L1104 1157L1100 1154ZM1135 1069L1139 1073L1130 1122L1126 1123ZM1141 1042L1145 1043L1145 1084L1141 1082ZM1161 1094L1164 1090L1163 1101L1160 1103ZM1162 1020L1164 1016L1165 1070L1163 1068ZM1186 1065L1189 1063L1189 1068L1186 1072ZM1242 969L1245 974L1245 986L1242 981Z"/>
<path fill="#0335b5" d="M245 1052L254 1077L265 1118L262 1118L251 1077ZM313 1111L319 1109L339 1195L333 1195ZM366 1158L370 1149L394 1240L390 1247ZM368 1060L378 1085L383 1108L378 1108L373 1085ZM378 1108L383 1100L396 1161L391 1161ZM365 1047L376 1069L384 1099L380 1099L372 1069ZM430 1066L439 1089L462 1167L459 1167L436 1089ZM459 1167L462 1161L474 1213L471 1209ZM491 1063L502 1087L522 1159L518 1159L498 1087ZM515 1121L521 1116L539 1181L533 1185ZM546 1193L549 1197L551 1208L548 1199ZM553 1158L557 1165L567 1201L563 1202ZM583 1156L586 1156L598 1209L595 1201ZM566 1045L575 1069L593 1136L590 1136L572 1069ZM616 1175L621 1176L628 1197L623 1198ZM626 1100L631 1101L638 1123L633 1124ZM646 1105L654 1106L661 1131L653 1130ZM672 1102L676 1101L681 1128L677 1129ZM686 1107L694 1109L699 1127L691 1128ZM691 1128L699 1128L706 1154L698 1155ZM722 1117L731 1116L736 1144L727 1143ZM755 1171L759 1173L762 1195L758 1193ZM764 1117L772 1117L776 1146L768 1145ZM846 1079L851 1080L852 1103L847 1104ZM891 1122L893 1123L888 1146L886 1148ZM901 1170L903 1170L899 1197L897 1197ZM957 1036L959 1032L951 1070L949 1071ZM953 1088L957 1083L953 1118L949 1118ZM947 1137L951 1141L946 1172L942 1177ZM984 1082L988 1080L988 1106L984 1104ZM1008 1074L1010 1069L1005 1104L1003 1099ZM1006 1057L1011 1054L1011 1097L1006 1096ZM1014 1029L1017 1026L1018 1049L1015 1045ZM1017 1144L1020 1146L1021 1157L1018 1160ZM1041 1016L1044 1014L1043 1051L1040 1052ZM1073 1016L1077 1012L1073 1039L1069 1036ZM1037 1200L1041 1198L1038 1219L1034 1216ZM1055 1007L1057 1028L1057 1028L1054 1028L1054 1028ZM1068 1075L1072 1077L1069 1108L1065 1107ZM1071 1050L1076 1050L1075 1075L1070 1077ZM1068 1185L1071 1183L1070 1186L1067 1189ZM1119 1024L1123 1024L1117 1066L1113 1064ZM1163 1097L1165 1099L1165 1102L1163 1099ZM1201 952L1204 974L1204 974L1200 974L1200 974ZM1200 990L1204 992L1203 1018L1199 1022ZM1205 1026L1208 1027L1208 1051L1205 1047Z"/>
<path fill="#011599" d="M231 1054L242 1086L245 1099L241 1099L238 1086ZM273 1158L276 1152L277 1160L274 1162ZM262 1058L273 1085L280 1113L275 1113L268 1085ZM409 1069L419 1100L438 1174L435 1174L416 1100ZM482 1115L486 1111L505 1195L501 1189ZM533 1055L542 1077L548 1097L543 1097L537 1077ZM575 1184L581 1187L587 1205L581 1204ZM625 1175L629 1174L634 1197L630 1198ZM605 1042L615 1059L625 1099L619 1099L609 1059ZM659 1177L667 1177L673 1200L665 1199ZM663 1106L667 1105L672 1128L668 1127ZM688 1180L692 1179L693 1184L689 1185ZM722 1043L727 1057L732 1095L728 1095L723 1057ZM786 1169L795 1168L797 1188L788 1190ZM786 1055L790 1055L794 1094L790 1093ZM865 1102L871 1102L872 1129L866 1128ZM867 1152L873 1153L873 1181L867 1180ZM872 1123L879 1123L880 1147L873 1149ZM902 1113L907 1114L901 1143L896 1144ZM885 1200L890 1201L889 1204L884 1203ZM907 1114L910 1115L911 1141L908 1143ZM942 1061L947 1065L945 1088L940 1088ZM961 1041L964 1040L963 1093L960 1089ZM1025 991L1023 1009L1023 1009L1021 1009L1021 1009ZM1013 1050L1015 1047L1010 1072L1008 1074ZM1038 1020L1041 1021L1027 1062L1024 1067ZM1032 1044L1034 1047L1033 1069L1031 1073ZM1047 1149L1051 1146L1041 1199L1037 1200ZM1065 1107L1069 1110L1067 1127L1063 1123ZM1092 1013L1095 1009L1095 1065L1092 1060ZM1116 1052L1118 1050L1118 1092L1116 1088ZM1146 1022L1151 1023L1152 1050L1147 1054ZM1147 1099L1152 1103L1153 1118L1148 1115ZM1170 975L1174 995L1174 998L1169 998L1169 995ZM1174 991L1176 990L1177 1029L1175 1032ZM1200 974L1204 979L1204 987L1200 990ZM1225 975L1224 1006L1224 1015L1222 1015L1222 1006ZM1222 1015L1224 1020L1224 1017L1222 1018Z"/>
<path fill="#00001d" d="M903 1058L906 1058L899 1087L896 1088ZM947 1045L947 1061L947 1061L942 1061L942 1061ZM1082 972L1079 1004L1077 1016L1073 1016L1075 1004ZM1125 962L1118 992L1115 1005L1112 1005L1115 992ZM1149 959L1150 977L1151 1006L1146 1006L1145 977ZM1208 951L1208 969L1208 972L1205 972L1205 969Z"/>
<path fill="#000078" d="M231 1069L237 1083L250 1136L246 1136L233 1083ZM241 1099L245 1099L258 1152L254 1146ZM308 1167L313 1168L320 1198L315 1197ZM367 1141L373 1145L392 1226L386 1218ZM381 1159L387 1162L409 1234L403 1234ZM391 1161L396 1161L413 1226L408 1230ZM471 1068L482 1100L486 1115L482 1115L478 1100ZM471 1052L481 1071L505 1158L500 1158L476 1071ZM529 1057L540 1091L557 1158L553 1158L536 1091ZM562 1049L572 1078L592 1154L589 1154L569 1078ZM590 1136L593 1134L612 1206L609 1204ZM574 1057L584 1075L596 1114L590 1114L578 1075ZM686 1133L693 1134L698 1156L691 1157ZM679 1078L687 1076L694 1108L686 1107ZM775 1043L786 1066L788 1093L779 1093L777 1066ZM823 1086L827 1087L829 1109L825 1109ZM831 1112L834 1112L836 1135L833 1137ZM835 1082L841 1080L842 1105L836 1106ZM866 1019L869 1035L870 1074L864 1074L863 1035ZM867 1180L873 1179L874 1204L868 1205ZM896 1144L901 1143L895 1171L890 1173ZM906 1140L908 1141L903 1170L901 1170ZM897 1197L899 1197L897 1207L895 1208ZM916 1139L919 1140L920 1166L917 1164ZM934 1171L939 1175L936 1212L931 1208ZM968 1066L971 1061L971 1083L968 1087ZM1018 1192L1020 1195L1018 1207L1016 1208ZM1029 1154L1031 1156L1030 1187L1028 1192ZM1069 1036L1073 1040L1068 1062L1064 1062ZM1056 1100L1060 1095L1051 1154L1047 1149ZM1070 1093L1075 1091L1074 1117L1069 1113ZM1103 1004L1106 1002L1108 1049L1105 1050ZM1141 1082L1145 1082L1145 1093L1141 1098ZM1163 980L1164 1000L1164 1020L1162 1020L1162 1000Z"/>
<path fill="#000012" d="M967 1003L960 1033L959 1036L957 1036L958 1033ZM1016 1008L1017 1029L1017 1029L1014 1029L1014 1029Z"/>
<path fill="#0449c9" d="M301 1184L307 1180L309 1179L303 1188ZM368 1230L374 1231L375 1241L369 1236ZM328 1054L341 1085L352 1127L347 1127L336 1085ZM403 1144L406 1147L417 1188L414 1187ZM410 1053L417 1071L426 1104L423 1104L414 1071ZM499 1117L503 1113L526 1208L522 1203ZM612 1102L616 1102L623 1127L619 1126ZM657 1104L661 1103L666 1124L662 1126ZM691 1157L698 1157L704 1180L697 1180ZM691 1090L695 1090L697 1101L693 1102ZM699 1129L703 1129L707 1143L703 1145ZM700 1042L707 1041L718 1094L711 1093ZM727 1143L736 1144L742 1170L733 1172ZM736 1146L740 1148L744 1168L740 1169ZM744 1052L749 1052L756 1092L751 1093ZM755 1120L760 1122L763 1140L758 1141ZM752 1033L760 1033L768 1095L760 1093ZM818 1113L825 1112L826 1141L819 1140ZM834 1164L837 1165L838 1185L835 1185ZM836 1034L838 1055L841 1082L835 1082L832 1055ZM839 1134L845 1134L847 1161L841 1161ZM849 1037L851 1071L851 1079L846 1079L846 1071ZM874 1176L881 1176L882 1204L875 1206ZM880 1180L882 1181L878 1203L876 1202ZM915 1111L918 1109L919 1140L916 1139ZM959 1118L962 1122L962 1164L959 1164ZM984 1104L988 1108L987 1153L983 1148ZM983 1148L987 1146L986 1164L982 1166ZM981 1209L985 1205L985 1223L981 1218ZM1014 1100L1017 1101L1004 1142L1001 1143ZM1079 1003L1078 1023L1078 1023L1074 1023L1074 1023ZM1074 1023L1078 1018L1072 1073L1068 1075ZM1083 1045L1087 1050L1087 1071L1083 1074ZM1116 1109L1118 1108L1118 1141L1116 1144ZM1128 1084L1133 1084L1134 1135L1129 1135ZM1168 1022L1171 1020L1166 1063L1163 1068ZM1169 1083L1174 1086L1174 1097L1169 1094ZM1185 1017L1188 1022L1189 1062L1186 1065Z"/>
<path fill="#000040" d="M214 1066L226 1095L234 1121L230 1121L222 1095ZM599 1042L607 1058L632 1157L626 1157L601 1058ZM891 1005L892 1021L892 1065L889 1065L889 1021ZM948 1059L952 1063L953 1102L949 1098ZM1010 1042L1013 1039L1002 1082L999 1080ZM1092 1024L1095 1021L1095 1063L1092 1066ZM1130 1038L1134 1038L1130 1089L1126 1085ZM1229 963L1223 984L1223 985L1218 985L1218 984ZM1211 985L1213 981L1212 998L1210 1001Z"/>
<path fill="#0557d3" d="M279 1131L284 1134L296 1178L291 1176ZM319 1094L325 1091L346 1163L340 1169ZM409 1223L412 1229L416 1229L413 1236ZM440 1196L443 1201L450 1217L447 1224ZM502 1050L514 1076L532 1144L526 1144L508 1076ZM626 1157L632 1156L636 1172L630 1173ZM705 1170L713 1170L716 1181L708 1181ZM719 1095L723 1093L728 1121L724 1120ZM801 1166L809 1164L811 1189L803 1188ZM812 1088L816 1088L819 1114L815 1115ZM834 1158L843 1156L844 1186L835 1184ZM845 1157L854 1159L854 1187L845 1187ZM849 1076L855 1076L856 1105L850 1103ZM900 1142L902 1143L903 1168L901 1167ZM909 1081L914 1082L916 1113L911 1113ZM969 1162L971 1161L964 1207L962 1209ZM999 1080L1002 1080L995 1107L992 1104ZM983 1189L987 1193L983 1219L979 1218ZM1016 1125L1020 1121L1021 1181L1017 1179ZM1017 1179L1021 1181L1021 1209L1017 1210ZM1047 1018L1045 1042L1040 1069L1037 1069L1042 1042ZM1047 1061L1051 1064L1051 1077L1047 1079ZM1092 1134L1095 1132L1096 1160L1093 1162ZM1132 1020L1136 1023L1134 1033L1130 1038ZM1154 1040L1157 1035L1151 1068L1148 1066ZM1144 1082L1147 1085L1136 1129L1133 1130ZM1151 1051L1155 1050L1154 1103L1150 1099ZM1163 1066L1168 1066L1167 1092L1162 1090ZM1205 1022L1207 1019L1207 1047L1205 1045ZM1221 1002L1224 999L1224 1021L1221 1023Z"/>
<path fill="#000588" d="M286 1066L299 1096L318 1167L313 1167L294 1096ZM313 1131L319 1135L343 1223L337 1214ZM305 1066L316 1088L338 1168L333 1168L311 1088ZM390 1185L394 1189L405 1231L401 1227ZM495 1181L501 1185L507 1211L501 1207ZM489 1118L493 1122L514 1210L510 1203ZM508 1106L513 1104L528 1173L523 1166ZM517 1067L525 1091L528 1104L525 1104L522 1091ZM640 1153L644 1152L652 1178L648 1180ZM655 1180L661 1180L666 1197L660 1196ZM680 1127L686 1128L691 1152L685 1154ZM681 1103L688 1101L694 1130L687 1132ZM703 1091L707 1093L713 1120L709 1119ZM705 1062L714 1076L717 1092L710 1092L707 1076ZM734 1169L738 1171L741 1182L737 1184ZM728 1043L735 1069L739 1093L735 1093L731 1069ZM735 1093L739 1092L744 1119L740 1121ZM748 1170L752 1171L756 1189L752 1191ZM759 1119L765 1119L769 1144L763 1144ZM828 1160L832 1159L834 1189L830 1188ZM835 1184L844 1182L845 1197L836 1196ZM842 1079L851 1081L852 1104L843 1106ZM853 1027L854 1056L855 1076L849 1076L848 1056ZM872 1149L876 1147L878 1178L874 1179ZM878 1150L883 1151L884 1174L879 1175ZM891 1200L894 1201L894 1202L891 1202ZM920 1049L922 1050L917 1081L915 1080ZM915 1080L917 1081L913 1111L911 1109ZM914 1168L919 1167L920 1195L915 1194ZM950 1168L954 1166L955 1190L951 1192ZM994 1009L992 1031L992 1031L990 1031L990 1031ZM962 1209L964 1212L962 1212L960 1216ZM1001 1066L1005 1069L999 1112L995 1108ZM997 1016L1000 1014L1001 1033L998 1037ZM1051 1002L1043 1028L1036 1053L1034 1053L1041 1028ZM1012 1146L1014 1148L1012 1200L1010 1196ZM1069 1005L1068 1022L1068 1022L1065 1022L1065 1022ZM1112 1096L1116 1101L1110 1123L1106 1123ZM1148 1066L1151 1065L1147 1087L1144 1082ZM1150 1110L1154 1111L1154 1116L1150 1112ZM1249 938L1250 960L1250 974L1247 974L1247 960Z"/>
<path fill="#0664dd" d="M264 1065L276 1098L284 1131L279 1131L271 1098ZM317 1057L329 1087L343 1135L339 1135L325 1087ZM339 1135L343 1138L357 1187L353 1181ZM439 1056L448 1071L459 1110L453 1110L442 1071ZM472 1125L478 1125L499 1206L493 1200ZM516 1195L519 1198L521 1194L518 1201ZM526 1144L532 1136L547 1209L541 1201ZM552 1045L562 1066L585 1145L580 1145L557 1066ZM586 1135L590 1144L607 1200L603 1199ZM650 1129L656 1127L662 1155L656 1153ZM695 1128L703 1129L707 1143L699 1143ZM740 1121L744 1120L748 1146L744 1144ZM766 1169L772 1169L775 1189L769 1189ZM775 1093L779 1092L782 1118L778 1117ZM777 1023L784 1021L791 1089L784 1090ZM823 1087L827 1086L828 1110L824 1108ZM844 1130L853 1129L854 1157L845 1157ZM850 1103L856 1102L857 1130L851 1130ZM882 1095L885 1095L886 1123L883 1123ZM891 1148L894 1147L894 1175L891 1176ZM935 1147L940 1147L939 1177L934 1177ZM934 1201L939 1196L939 1206L934 1209ZM981 1089L983 1086L974 1144L972 1142ZM1015 1092L1019 1095L1020 1127L1016 1125ZM1025 1139L1028 1137L1021 1181L1018 1183ZM1027 1199L1030 1197L1027 1218L1024 1215ZM1049 1144L1053 1147L1053 1173L1049 1170ZM1106 1123L1110 1121L1105 1144L1101 1143ZM1114 1018L1118 1018L1117 1049L1113 1051ZM1150 1099L1154 1095L1154 1111L1150 1110Z"/>
<path fill="#1994fa" d="M608 1165L611 1167L619 1198L616 1198ZM656 1153L662 1153L668 1177L662 1177ZM685 1085L693 1084L697 1104L689 1104ZM709 1119L713 1120L718 1147L714 1146ZM740 1057L747 1059L752 1092L745 1091ZM832 1136L841 1134L843 1156L834 1158ZM1050 1196L1054 1196L1054 1203L1050 1203ZM1067 1105L1072 1106L1072 1120L1067 1125ZM1086 1171L1090 1166L1090 1169L1086 1173Z"/>
<path fill="#0335b5" d="M219 1057L228 1077L240 1123L236 1123L224 1077ZM237 1060L245 1078L262 1146L259 1146L242 1078ZM340 1169L346 1175L361 1227L355 1221ZM324 1056L333 1074L359 1165L354 1165L328 1074ZM354 1125L358 1131L379 1211L375 1212ZM379 1113L382 1115L412 1217L409 1223ZM392 1059L401 1080L417 1148L413 1148L397 1080ZM405 1048L414 1074L433 1154L430 1154L411 1074ZM435 1153L440 1157L458 1216L453 1225ZM476 1164L479 1159L490 1202L487 1203ZM464 1064L476 1086L501 1181L495 1181L470 1086ZM483 1049L493 1070L519 1168L514 1168L488 1070ZM525 1104L528 1105L550 1186L547 1193ZM611 1161L617 1161L621 1175L615 1174ZM655 1100L661 1102L668 1130L662 1131ZM693 1079L700 1079L702 1090L695 1092ZM730 1094L735 1095L739 1116L734 1118ZM742 1168L747 1168L749 1186L744 1185ZM757 1171L764 1169L767 1188L760 1188ZM793 1091L801 1091L803 1110L795 1112ZM857 1102L863 1103L865 1128L859 1128ZM874 1179L878 1180L879 1208L875 1206ZM879 1175L884 1175L885 1204L880 1203ZM898 1199L900 1200L899 1207L897 1207ZM921 1138L924 1140L924 1164L921 1163ZM936 1092L941 1089L940 1125L935 1125ZM941 1100L945 1099L946 1125L942 1124ZM943 1171L947 1175L948 1220L944 1216ZM948 1020L951 1036L952 1059L948 1059L947 1036ZM951 1192L955 1193L955 1218L951 1215ZM959 1151L964 1153L956 1178L951 1178ZM1005 1037L1009 1035L1005 1068L1001 1066ZM998 1061L1001 1062L1001 1107L998 1106ZM998 1143L1001 1145L1001 1183L998 1186ZM1037 1069L1040 1072L1037 1096L1034 1091ZM1049 1170L1053 1167L1054 1201L1050 1196ZM1054 1185L1057 1185L1055 1200L1052 1200ZM1070 1004L1074 1019L1073 1051L1068 1051L1069 1019ZM1100 1040L1102 1036L1098 1058L1096 1063ZM1087 1067L1091 1072L1090 1115L1086 1118ZM1124 1042L1128 1043L1116 1101L1112 1096ZM1164 1019L1169 1016L1168 1062L1163 1066ZM1162 1090L1167 1086L1167 1093L1162 1098ZM1182 1065L1184 1067L1184 1073L1182 1074Z"/>
<path fill="#000012" d="M1011 988L1004 1015L1004 1015L999 1015L999 1015ZM1091 987L1091 1010L1091 1015L1087 1015L1087 1010Z"/>
<path fill="#00001d" d="M674 1102L680 1102L686 1126L680 1127ZM897 1013L898 1030L899 1059L897 1059L896 1030ZM930 1027L931 1045L931 1045L928 1045L928 1045ZM1170 973L1170 994L1169 1019L1164 1019L1165 994Z"/>
<path fill="#d6edff" d="M807 1138L813 1138L815 1166L809 1165Z"/>
<path fill="#33a4fe" d="M707 1146L714 1145L719 1166L712 1168ZM719 1166L723 1168L725 1179L721 1179ZM721 1147L728 1145L733 1169L726 1170ZM763 1144L769 1143L772 1168L766 1169ZM773 1144L777 1144L780 1166L776 1168ZM780 1140L784 1142L787 1165L783 1166ZM851 1130L857 1129L858 1155L852 1157ZM883 1123L886 1124L886 1149L883 1151ZM1061 1133L1064 1129L1057 1181L1054 1185ZM1080 1150L1082 1148L1079 1172L1077 1172ZM1093 1162L1096 1164L1096 1175L1093 1172Z"/>
<path fill="#6bbdff" d="M699 1143L707 1142L713 1168L705 1170ZM714 1146L718 1145L723 1166L719 1166ZM738 1142L743 1143L747 1166L742 1168ZM744 1144L748 1144L752 1170L748 1170ZM788 1139L795 1138L798 1170L791 1169ZM798 1140L806 1139L809 1165L801 1166ZM1066 1161L1071 1157L1071 1181L1066 1179Z"/>
<path fill="#00002e" d="M236 1123L240 1131L241 1124L237 1125ZM618 1101L621 1102L627 1124L624 1124ZM666 1104L672 1105L678 1128L672 1129ZM869 1070L873 1070L874 1096L870 1096ZM928 1045L931 1044L931 1075L928 1074ZM1017 1004L1017 1038L1017 1038L1015 1038L1015 1038ZM1105 1012L1107 1014L1102 1038L1100 1040Z"/>
<path fill="#011599" d="M253 1062L261 1080L283 1167L279 1167L257 1080ZM375 1212L379 1212L386 1240L382 1242ZM418 1217L422 1211L427 1232L423 1232ZM456 1160L462 1162L476 1207L470 1211ZM539 1051L553 1082L573 1161L567 1161L547 1082ZM599 1116L605 1113L617 1156L611 1161ZM617 1149L620 1149L626 1172L623 1173ZM638 1176L641 1176L648 1202L645 1203ZM620 1043L632 1070L640 1101L634 1101L626 1070ZM694 1050L698 1049L707 1092L703 1091ZM716 1121L723 1120L728 1148L721 1147ZM708 1034L717 1061L723 1095L719 1095L713 1061ZM770 1116L774 1117L777 1143L773 1144ZM784 1090L791 1088L793 1116L786 1115ZM786 1115L793 1115L795 1141L788 1139ZM803 1091L809 1089L811 1115L805 1113ZM824 1108L828 1110L830 1135L826 1134ZM870 1096L874 1096L875 1123L871 1122ZM882 1044L885 1069L885 1069L882 1069L882 1069ZM884 1177L887 1178L887 1204L884 1202ZM911 1113L916 1112L917 1136L912 1136ZM928 1132L931 1133L931 1165L928 1164ZM928 1187L931 1187L931 1208L928 1207ZM935 1125L940 1121L940 1145L935 1147ZM942 1124L946 1123L947 1175L943 1171ZM950 1151L954 1156L954 1167L950 1168ZM999 1015L1004 1013L989 1068L984 1067ZM987 1048L989 1052L983 1090L981 1089ZM992 1104L995 1107L981 1161L978 1156ZM965 1202L968 1200L964 1212L961 1213ZM998 1106L1001 1105L1001 1147L998 1143ZM1034 1053L1036 1052L1023 1097L1021 1099ZM1037 1163L1040 1167L1031 1206L1028 1211ZM1046 1017L1050 1018L1051 1063L1047 1061ZM1068 1089L1073 1090L1072 1101L1067 1105ZM1086 1122L1088 1124L1082 1146L1080 1150ZM1087 1015L1091 1010L1091 1064L1087 1067ZM1101 1143L1105 1140L1101 1166L1097 1162ZM1111 1132L1115 1134L1114 1151L1110 1151ZM1162 1006L1165 1008L1157 1041L1154 1040ZM1182 1015L1184 1011L1184 1036L1182 1036ZM1223 965L1227 967L1227 1002L1223 1002ZM1231 974L1234 970L1235 997L1232 1000Z"/>
<path fill="#000055" d="M313 1167L318 1163L328 1209L323 1206ZM401 1072L412 1104L415 1114L412 1114L409 1104ZM414 1072L426 1101L428 1108L423 1108L421 1101ZM528 1100L532 1099L545 1154L541 1147ZM626 1101L630 1103L637 1125L633 1126ZM634 1101L640 1101L648 1131L642 1129ZM658 1069L669 1091L672 1104L666 1104L663 1091ZM689 1104L697 1102L703 1130L695 1128ZM923 1008L924 1036L924 1047L921 1047L921 1036ZM928 1074L931 1075L931 1105L928 1104ZM984 1067L989 1069L975 1107L970 1112ZM998 1037L1001 1034L1001 1066L998 1061ZM1015 1038L1017 1037L1016 1054L1014 1054ZM1048 1044L1051 1041L1048 1069L1045 1065ZM1086 986L1082 1011L1079 1031L1076 1031L1079 1011ZM1068 1051L1073 1049L1073 1090L1068 1089ZM1151 995L1155 1013L1155 1027L1151 1027L1151 1013ZM1151 1027L1155 1029L1155 1048L1151 1051ZM1206 983L1207 1003L1207 1022L1205 1022L1205 1003ZM1211 993L1214 991L1213 1041L1210 1039ZM1223 1002L1227 1000L1227 1015L1223 1013Z"/>
<path fill="#000002" d="M333 1168L338 1167L352 1219L347 1220ZM353 1181L357 1184L371 1232L367 1229ZM400 1248L404 1252L406 1259L402 1255ZM391 1097L396 1092L421 1179L416 1180ZM428 1167L431 1172L449 1234L446 1229ZM452 1190L458 1191L465 1212L459 1216ZM547 1193L550 1190L552 1195L549 1200ZM632 1153L635 1148L641 1175L638 1176ZM648 1180L652 1176L657 1194L653 1200ZM712 1168L719 1165L721 1181L714 1179ZM730 1147L734 1142L738 1173L734 1169ZM776 1168L780 1168L783 1190L779 1193ZM795 1112L803 1106L806 1139L798 1140ZM862 1157L868 1160L869 1181L863 1178ZM875 1069L880 1067L881 1098L876 1093ZM882 1069L885 1073L885 1101L882 1095ZM902 1199L904 1197L904 1206L902 1206ZM908 1053L913 1048L914 1083L909 1081ZM921 1191L924 1190L924 1206L921 1209ZM928 1164L931 1165L931 1182L928 1187ZM934 1177L939 1175L939 1203L934 1201ZM949 1098L953 1093L954 1150L950 1151ZM990 1031L992 1035L989 1053L987 1048ZM972 1142L974 1142L971 1167L969 1162ZM978 1156L981 1155L968 1205L965 1202ZM988 1157L992 1153L987 1186L983 1189ZM998 1186L1001 1191L1001 1214L998 1217ZM1045 1065L1048 1071L1044 1089L1041 1089ZM1031 1166L1034 1166L1030 1204L1027 1199ZM1065 1022L1068 1025L1062 1053L1059 1049ZM1092 1108L1095 1108L1095 1135L1092 1134ZM1133 998L1137 1001L1128 1039L1124 1042ZM1112 1082L1116 1084L1115 1135L1111 1132ZM1124 1108L1128 1102L1126 1133L1122 1131ZM1182 1036L1184 1031L1184 1068L1182 1065Z"/>
<path fill="#000068" d="M267 1059L274 1075L293 1140L289 1140L270 1075ZM278 1070L289 1095L296 1119L290 1119L283 1095ZM367 1229L371 1233L371 1232L367 1231ZM354 1165L359 1161L379 1235L374 1238ZM377 1172L381 1180L404 1243L400 1248ZM379 1145L383 1147L394 1189L390 1185ZM385 1106L389 1110L422 1219L418 1217ZM430 1154L433 1150L443 1188L440 1196ZM430 1056L440 1075L462 1160L456 1160L434 1075ZM524 1068L534 1091L554 1160L550 1160L530 1091ZM587 1041L598 1070L600 1078L597 1078L595 1070ZM623 1173L626 1172L633 1197L630 1197ZM630 1173L636 1173L643 1199L637 1201ZM610 1041L620 1065L630 1101L626 1101L616 1065ZM723 1040L729 1054L735 1094L730 1094L724 1054ZM767 1091L771 1089L774 1118L770 1116ZM827 1040L837 1070L838 1083L829 1083L828 1070ZM830 1106L839 1105L841 1137L832 1136ZM883 1151L886 1149L887 1177L884 1177ZM889 1065L892 1064L893 1092L890 1093ZM891 1176L894 1175L894 1201L891 1200ZM921 1047L924 1046L924 1082L921 1081ZM951 1178L956 1173L945 1212L940 1213ZM995 1108L999 1103L992 1158L988 1157ZM999 994L1000 1016L1000 1016L997 1016L997 1016ZM1006 1148L1008 1151L1001 1178L999 1173ZM999 1173L1001 1174L989 1214L987 1215ZM1015 999L1019 1033L1019 1053L1015 1053L1015 1033ZM1092 969L1094 999L1094 1000L1091 1000L1091 999ZM1118 994L1118 1018L1118 1018L1114 1018L1114 1018ZM1182 1074L1184 1069L1184 1079L1182 1076Z"/>
<path fill="#0774e8" d="M289 1140L293 1148L308 1196L304 1189ZM343 1068L351 1085L361 1121L357 1121L347 1085ZM343 1052L356 1085L381 1172L377 1172L352 1085ZM412 1114L415 1109L431 1173L428 1167ZM423 1108L428 1107L440 1156L435 1153ZM476 1068L485 1088L493 1118L489 1118L481 1088ZM488 1098L491 1094L519 1189L516 1195ZM550 1160L554 1162L565 1206L561 1198ZM580 1145L585 1153L602 1206L597 1205ZM576 1099L580 1102L590 1143L586 1135ZM662 1131L668 1129L674 1155L668 1154ZM685 1154L691 1153L697 1179L691 1181ZM695 1092L702 1091L708 1119L701 1119ZM783 1166L787 1166L789 1186L785 1187ZM805 1113L811 1112L813 1137L807 1138ZM809 1165L815 1164L816 1182L810 1183ZM845 1187L854 1186L855 1196L846 1198ZM859 1128L865 1126L868 1159L862 1157ZM863 1178L869 1178L871 1205L865 1205ZM871 1122L875 1123L876 1150L872 1149ZM970 1112L975 1115L964 1155L959 1151ZM1018 1183L1021 1181L1017 1207L1014 1203ZM1036 1130L1039 1130L1034 1169L1031 1166ZM1071 1068L1074 1068L1070 1091L1067 1091ZM1067 1091L1070 1092L1064 1134L1061 1133ZM1074 1170L1077 1171L1077 1180L1074 1181ZM1077 1172L1079 1176L1077 1176L1075 1181Z"/>
<path fill="#022aaa" d="M290 1119L296 1127L307 1157L301 1158ZM355 1221L361 1227L362 1224L356 1225ZM449 1153L453 1147L468 1218L464 1212ZM453 1110L459 1115L474 1170L468 1168ZM580 1050L588 1076L611 1165L608 1165L585 1076ZM624 1124L627 1126L635 1153L632 1153ZM642 1129L648 1129L654 1153L648 1151ZM662 1177L668 1177L674 1198L668 1200ZM726 1170L733 1170L735 1182L728 1180ZM745 1091L752 1089L756 1117L749 1117ZM778 1117L782 1117L784 1140L780 1140ZM830 1188L834 1187L835 1194L831 1195ZM852 1157L858 1159L859 1180L853 1180ZM890 1093L893 1092L893 1119L890 1121ZM897 1059L899 1057L900 1087L898 1087ZM907 1140L909 1140L904 1173L902 1174ZM909 1024L913 1046L913 1053L908 1053L908 1046ZM921 1081L924 1082L924 1106L921 1105ZM928 1104L931 1103L931 1131L928 1132ZM938 1041L942 1056L942 1074L937 1074L937 1056ZM937 1074L942 1071L941 1097L936 1092ZM1010 1196L1012 1199L1012 1216L1010 1221ZM1059 1049L1062 1047L1054 1091L1051 1094ZM1028 1211L1031 1208L1030 1214L1027 1218ZM1066 1179L1071 1177L1071 1196L1066 1192ZM1086 1149L1090 1154L1090 1167L1086 1171ZM1091 1000L1094 1002L1095 1028L1092 1024ZM1113 1051L1117 1053L1116 1086L1112 1082ZM1155 1001L1160 997L1158 1017L1153 1022ZM1206 1039L1208 1037L1208 1047L1206 1042ZM1211 963L1214 965L1214 989L1211 993ZM1222 963L1224 988L1224 1002L1221 1002L1221 988ZM1224 935L1226 950L1227 965L1223 965L1222 950Z"/>
<path fill="#0449c9" d="M233 1067L240 1083L254 1139L251 1139L237 1083ZM245 1063L253 1085L271 1148L268 1148L250 1085ZM268 1148L271 1148L274 1154L271 1159ZM295 1062L309 1095L319 1131L313 1131L303 1095ZM357 1121L361 1129L382 1196L378 1193ZM378 1193L382 1197L395 1238L391 1241ZM355 1050L366 1078L383 1145L379 1145L362 1078ZM413 1148L417 1143L438 1233L434 1231ZM427 1061L436 1084L453 1153L449 1153L432 1084ZM514 1168L519 1165L527 1202L522 1198ZM533 1069L544 1094L570 1186L567 1186L541 1094ZM567 1161L573 1154L585 1216L579 1208ZM633 1126L637 1128L644 1155L640 1153ZM639 1036L645 1035L661 1099L655 1100ZM686 1180L692 1179L694 1186L688 1187ZM675 1071L682 1072L688 1102L681 1103ZM701 1119L708 1120L714 1148L707 1146ZM749 1117L756 1117L760 1146L753 1145ZM755 1090L761 1090L765 1118L759 1119ZM790 1042L798 1063L801 1091L793 1091L790 1063ZM819 1165L823 1165L826 1190L822 1189ZM829 1083L838 1082L839 1105L830 1106ZM867 1026L872 1058L873 1070L869 1070L868 1058ZM876 1093L881 1093L882 1123L877 1124ZM901 1167L903 1167L904 1200L902 1199ZM902 1174L904 1174L900 1197L898 1199ZM1012 1126L1014 1130L1014 1144L1012 1146ZM1017 1210L1021 1209L1021 1215L1017 1216ZM1034 1091L1037 1087L1028 1138L1025 1139ZM1014 1203L1017 1206L1015 1220L1012 1216ZM1044 1131L1047 1129L1040 1158L1037 1163ZM1047 1079L1051 1078L1052 1093L1048 1097ZM1048 1097L1052 1096L1053 1147L1049 1144ZM1096 1063L1098 1058L1095 1083L1093 1080ZM1122 1131L1126 1134L1125 1140L1121 1143ZM1153 1022L1158 1027L1153 1068L1148 1068ZM1185 994L1188 991L1188 1040L1185 1037Z"/>
<path fill="#0984f3" d="M307 1049L321 1081L325 1094L319 1094L315 1081ZM341 1068L350 1092L358 1125L354 1125L346 1092ZM493 1200L499 1195L500 1197L494 1202ZM541 1147L545 1145L558 1194L554 1199ZM573 1151L576 1154L591 1204L588 1203ZM585 1062L599 1092L605 1116L599 1116L593 1092ZM648 1151L654 1152L661 1181L655 1180ZM674 1180L680 1178L684 1199L678 1198ZM680 1156L686 1154L692 1179L686 1180ZM666 1059L672 1057L680 1100L674 1102ZM691 1152L698 1153L703 1178L696 1179ZM724 1120L728 1119L734 1147L730 1147ZM753 1145L760 1144L764 1169L757 1171ZM763 1053L769 1077L771 1091L767 1091L765 1077ZM815 1115L819 1114L821 1140L817 1140ZM890 1121L893 1122L894 1147L891 1148ZM899 1114L901 1115L902 1142L900 1142ZM911 1109L913 1108L909 1140L907 1140ZM1041 1089L1044 1091L1039 1126L1036 1130ZM1051 1094L1054 1092L1047 1131L1044 1131ZM1075 1122L1078 1119L1078 1146L1075 1148ZM1086 1118L1090 1115L1090 1145L1086 1149ZM1185 1037L1188 1035L1189 1075L1186 1072ZM1210 1001L1212 1002L1208 1035L1206 1039Z"/>
<path fill="#ffffff" d="M817 1140L821 1138L823 1165L819 1165ZM826 1134L830 1133L832 1160L828 1160Z"/>
<path fill="#000078" d="M301 1158L307 1159L316 1190L310 1193ZM391 1241L395 1244L397 1254L393 1248ZM416 1180L421 1173L437 1238L432 1236ZM421 1073L429 1087L458 1190L452 1190L423 1087ZM443 1053L450 1067L460 1100L457 1100L447 1067ZM523 1166L528 1162L538 1200L533 1203ZM516 1054L526 1076L532 1100L528 1100L522 1076ZM566 1042L579 1071L597 1130L591 1130L573 1071ZM591 1130L597 1125L618 1204L612 1203ZM615 1174L621 1175L627 1198L621 1199ZM612 1131L615 1132L620 1149L617 1149ZM606 1053L613 1070L621 1101L618 1101L610 1070ZM643 1102L649 1101L656 1130L650 1129ZM710 1092L717 1090L723 1122L716 1121ZM770 1035L777 1064L779 1093L775 1093L773 1064ZM799 1025L806 1047L809 1091L803 1091L800 1047ZM820 1032L824 1052L827 1087L823 1087L820 1052ZM843 1106L852 1107L853 1129L844 1130ZM898 1087L900 1088L901 1116L899 1114ZM921 1163L924 1161L924 1190L921 1191ZM940 1067L944 1067L945 1098L941 1100ZM1013 990L1012 1014L1009 1037L1005 1037L1008 1014ZM1014 1054L1016 1057L1016 1068L1014 1072ZM1014 1072L1016 1070L1014 1129L1012 1126ZM1015 1053L1019 1049L1019 1087L1015 1092ZM1057 999L1053 1028L1051 1044L1048 1044L1050 1028ZM1077 1043L1080 1045L1079 1071L1076 1073ZM1076 1073L1079 1069L1079 1099L1076 1095ZM1111 990L1107 1012L1107 1012L1105 1012L1105 1012ZM1093 1080L1095 1084L1088 1125L1086 1122ZM1137 984L1137 1010L1136 1020L1132 1020L1133 1010ZM1183 971L1184 1001L1184 1015L1182 1015L1182 1001ZM1215 966L1214 981L1213 985L1211 985L1212 981Z"/>
<path fill="#00000a" d="M211 1067L222 1098L225 1108L221 1108L218 1098Z"/>
<path fill="#033fbf" d="M259 1146L262 1142L263 1143L260 1149ZM401 1227L405 1228L406 1220L402 1229ZM368 1070L378 1099L382 1113L379 1113L375 1099ZM380 1059L393 1086L396 1097L391 1097L388 1086ZM468 1168L474 1162L485 1216L479 1212ZM457 1100L460 1098L479 1162L476 1164ZM456 1062L470 1096L478 1125L472 1125L464 1096ZM497 1063L507 1084L513 1106L508 1106L502 1084ZM567 1186L570 1184L574 1208L571 1200ZM544 1048L552 1070L576 1151L573 1151L549 1070ZM563 1051L572 1070L580 1099L576 1099L568 1070ZM597 1078L600 1078L615 1137L612 1131ZM668 1154L674 1156L680 1180L674 1180ZM672 1129L678 1128L686 1156L680 1156ZM687 1132L694 1130L698 1153L691 1152ZM734 1118L739 1119L743 1142L738 1142ZM791 1169L798 1168L800 1193L793 1193ZM808 1023L812 1044L816 1088L812 1088L808 1044ZM841 1046L850 1046L851 1081L842 1079ZM853 1180L859 1179L860 1205L854 1203ZM855 1074L861 1076L863 1104L857 1102ZM876 1042L879 1058L880 1069L875 1069L874 1058ZM877 1124L882 1122L883 1150L878 1150ZM922 1033L922 1049L922 1049L920 1049L920 1049ZM912 1136L917 1137L919 1169L914 1168ZM915 1194L920 1193L921 1210L916 1211ZM921 1105L924 1104L924 1139L921 1138ZM943 1014L944 1044L944 1067L940 1067L940 1044ZM1025 1002L1017 1028L1013 1042L1010 1042L1014 1028ZM1021 1099L1023 1095L1008 1150L1006 1148ZM1076 1031L1079 1031L1074 1065L1071 1068ZM1067 1125L1072 1126L1071 1160L1066 1161ZM1076 1095L1079 1098L1078 1119L1075 1122ZM1075 1148L1078 1149L1077 1167L1074 1170ZM1092 1066L1095 1063L1095 1110L1092 1108ZM1126 1085L1130 1082L1128 1110L1124 1108ZM1148 1068L1153 1064L1148 1108L1143 1106ZM1143 1106L1148 1109L1147 1123L1142 1123ZM1218 985L1223 989L1213 1021L1208 1018ZM1208 1018L1213 1021L1204 1049L1199 1050ZM1184 962L1188 988L1188 994L1185 994L1185 988Z"/>
<path fill="#011599" d="M485 1263L490 1266L492 1276L487 1273ZM513 1252L519 1252L523 1265L517 1266ZM544 1245L549 1244L553 1261L548 1262ZM564 1268L569 1267L572 1280L567 1280ZM579 1238L585 1240L587 1249L581 1247ZM609 1248L614 1251L617 1266L612 1264ZM615 1253L622 1254L625 1269L618 1268ZM622 1256L627 1255L631 1272L626 1273ZM637 1278L644 1276L647 1285L640 1287ZM720 1273L727 1271L729 1286L722 1288ZM773 1288L778 1287L779 1293L774 1295ZM802 1241L807 1239L808 1250L803 1252ZM822 1240L827 1240L828 1248L823 1247ZM833 1252L837 1254L838 1263L834 1262ZM843 1260L849 1260L849 1266L843 1266ZM843 1266L849 1266L850 1277L844 1277ZM847 1223L854 1225L854 1235L847 1233ZM896 1236L900 1236L900 1249L896 1249ZM927 1243L931 1242L931 1250L927 1250ZM941 1227L948 1228L948 1243L941 1242ZM963 1228L968 1230L968 1242L963 1241ZM990 1214L997 1216L997 1228L990 1226Z"/>
<path fill="#0664dd" d="M478 1255L483 1253L485 1264L480 1265ZM518 1244L522 1246L526 1262L522 1261ZM583 1276L588 1273L590 1285L585 1287ZM585 1287L590 1285L593 1297L588 1300ZM596 1254L603 1252L605 1261L598 1264ZM664 1296L668 1295L670 1306L666 1306ZM661 1268L668 1271L672 1287L665 1285ZM679 1302L683 1304L684 1310L680 1309ZM729 1288L733 1286L735 1299L731 1301ZM795 1265L799 1266L799 1274L795 1273ZM795 1233L801 1231L803 1247L797 1249ZM815 1273L820 1272L821 1287L816 1288ZM837 1261L842 1262L843 1277L838 1276ZM847 1241L854 1238L855 1251L848 1253ZM848 1253L855 1254L856 1264L849 1263ZM865 1231L870 1229L871 1237L866 1239ZM879 1238L884 1240L884 1254L879 1252ZM911 1220L917 1223L917 1239L911 1237ZM963 1241L968 1243L968 1250L963 1248ZM996 1214L1001 1216L1001 1223L996 1221Z"/>
<path fill="#33a4fe" d="M484 1235L490 1237L493 1253L487 1251ZM493 1226L497 1229L499 1240L495 1237ZM497 1226L501 1226L504 1240L500 1240ZM512 1246L518 1247L519 1253L513 1252ZM567 1237L574 1238L577 1253L570 1252ZM588 1251L595 1250L598 1262L591 1264ZM591 1264L598 1262L600 1275L593 1276ZM612 1264L617 1263L620 1276L615 1276ZM649 1296L655 1299L658 1314L652 1311ZM654 1281L659 1279L661 1293L656 1294ZM659 1275L663 1275L666 1287L662 1288ZM706 1297L711 1296L713 1311L708 1312ZM705 1259L710 1261L712 1272L707 1270ZM711 1264L718 1267L719 1274L712 1271ZM718 1259L725 1259L727 1273L720 1273ZM752 1273L759 1275L760 1285L753 1282ZM760 1297L765 1297L766 1307L761 1307ZM788 1249L793 1248L794 1259L789 1260ZM818 1250L823 1248L824 1262L819 1264ZM837 1245L842 1245L842 1262L837 1261ZM855 1276L860 1275L861 1282L856 1283ZM860 1248L866 1250L867 1267L861 1265ZM871 1243L875 1243L875 1251L871 1251ZM879 1252L884 1253L885 1269L880 1268ZM911 1237L917 1235L917 1244L911 1246ZM953 1231L958 1230L958 1239L953 1240ZM958 1228L963 1229L963 1239L958 1238Z"/>
<path fill="#ffffff" d="M787 1241L792 1239L793 1247L788 1249ZM849 1263L856 1262L856 1272L849 1273Z"/>
<path fill="#0449c9" d="M460 1245L466 1247L469 1260L463 1257ZM483 1255L488 1258L490 1265L485 1263ZM538 1262L543 1260L546 1274L541 1276ZM575 1239L580 1236L582 1247L577 1250ZM581 1247L587 1245L589 1253L583 1256ZM590 1288L596 1291L598 1298L592 1296ZM619 1290L624 1289L627 1304L622 1305ZM636 1243L642 1241L644 1250L638 1251ZM652 1272L657 1273L659 1281L654 1281ZM668 1245L672 1245L674 1253L670 1253ZM705 1289L710 1289L711 1298L706 1297ZM709 1283L714 1285L715 1296L710 1294ZM710 1294L715 1291L717 1306L712 1308ZM730 1271L735 1272L736 1279L731 1279ZM731 1279L736 1279L737 1291L732 1290ZM738 1250L744 1252L746 1264L740 1261ZM750 1260L757 1259L759 1272L752 1273ZM758 1270L763 1272L764 1285L759 1283ZM774 1266L778 1266L780 1282L776 1282ZM803 1252L808 1252L809 1266L804 1266ZM825 1276L830 1274L831 1287L826 1289ZM849 1273L856 1274L857 1286L850 1284ZM871 1259L875 1258L875 1269L871 1269ZM891 1262L896 1265L896 1274L891 1272ZM922 1258L927 1260L927 1269L922 1267ZM931 1256L935 1257L935 1264L931 1264Z"/>
<path fill="#d6edff" d="M764 1275L771 1275L771 1282L764 1283Z"/>
<path fill="#0984f3" d="M535 1272L540 1271L544 1288L539 1288ZM572 1278L576 1278L580 1294L576 1294ZM583 1256L589 1258L593 1274L587 1272ZM632 1276L637 1279L640 1292L635 1289ZM664 1251L669 1252L672 1267L667 1267ZM670 1253L674 1256L675 1262L671 1259ZM699 1283L704 1280L706 1294L701 1297ZM721 1240L725 1237L727 1248L723 1251ZM768 1253L773 1250L775 1259L770 1262ZM791 1289L796 1287L796 1297L791 1299ZM816 1288L821 1289L822 1298L817 1298ZM819 1280L824 1280L825 1289L820 1290ZM842 1246L848 1244L849 1258L843 1260ZM859 1222L865 1222L866 1236L860 1236ZM866 1239L871 1237L871 1252L866 1253ZM875 1256L879 1256L880 1267L876 1268ZM917 1252L922 1249L923 1263L918 1265ZM928 1221L932 1220L931 1226L927 1227ZM958 1238L963 1240L963 1255L958 1253Z"/>
<path fill="#022aaa" d="M462 1227L466 1225L468 1233L464 1234ZM487 1251L493 1249L496 1262L490 1264ZM488 1230L493 1231L495 1239L490 1239ZM547 1282L552 1283L554 1292L549 1291ZM629 1241L636 1240L639 1254L632 1256ZM646 1285L652 1287L655 1298L649 1296ZM686 1288L691 1288L693 1300L688 1300ZM690 1293L697 1291L698 1300L691 1302ZM734 1265L740 1264L742 1274L736 1276ZM785 1296L791 1294L791 1301L785 1302ZM812 1243L817 1242L819 1256L814 1257ZM855 1225L860 1227L860 1240L855 1238ZM880 1268L885 1266L885 1273L880 1276ZM903 1219L910 1218L911 1228L904 1229ZM985 1221L990 1223L990 1237L985 1234Z"/>
<path fill="#1994fa" d="M463 1257L469 1258L471 1268L465 1267ZM540 1249L545 1248L549 1265L544 1266ZM564 1282L569 1284L572 1296L567 1294ZM622 1289L629 1291L631 1303L624 1301ZM688 1242L692 1240L695 1254L691 1256ZM697 1286L701 1284L704 1298L700 1300ZM725 1237L730 1237L731 1245L726 1244ZM783 1266L789 1266L789 1272L783 1272ZM790 1275L795 1275L796 1289L791 1289ZM800 1284L806 1282L807 1290L801 1291ZM804 1266L809 1264L811 1281L806 1283ZM867 1267L872 1268L872 1283L867 1281ZM871 1251L875 1254L875 1262L871 1259ZM884 1260L891 1262L892 1275L885 1274ZM891 1232L896 1229L896 1243L891 1246ZM896 1216L900 1217L900 1226L896 1225ZM900 1229L904 1227L904 1239L900 1242ZM922 1236L927 1235L927 1247L922 1248Z"/>
<path fill="#0335b5" d="M525 1259L532 1257L534 1270L527 1272ZM577 1250L582 1248L585 1264L580 1266ZM600 1270L607 1268L610 1284L603 1286ZM687 1274L694 1273L695 1284L688 1285ZM693 1267L697 1269L699 1279L695 1277ZM712 1271L719 1269L721 1284L714 1287ZM715 1244L722 1242L723 1248L716 1250ZM723 1251L727 1252L730 1267L726 1266ZM731 1301L735 1300L737 1310L733 1311ZM776 1289L780 1286L781 1300L777 1303ZM792 1240L796 1242L797 1255L793 1253ZM834 1262L838 1263L838 1277L834 1276ZM847 1233L854 1230L854 1238L847 1241ZM916 1230L921 1232L922 1242L917 1240ZM968 1229L973 1227L973 1236L968 1238ZM985 1213L990 1215L990 1222L985 1221Z"/>
<path fill="#033fbf" d="M534 1247L539 1247L543 1261L538 1262ZM576 1275L583 1278L586 1294L579 1292ZM580 1266L585 1263L588 1273L583 1276ZM603 1286L610 1284L614 1300L607 1302ZM607 1276L614 1277L616 1285L609 1284ZM609 1284L616 1282L619 1297L612 1299ZM640 1287L647 1288L650 1302L643 1301ZM657 1267L661 1267L663 1276L659 1275ZM671 1259L675 1258L677 1267L673 1268ZM732 1290L737 1292L739 1309L734 1307ZM778 1264L783 1263L784 1274L779 1275ZM779 1275L784 1277L785 1283L780 1281ZM822 1230L827 1230L827 1240L822 1240ZM824 1270L829 1271L830 1277L825 1276ZM861 1265L867 1264L867 1276L861 1277ZM896 1259L900 1262L900 1275L896 1272ZM900 1254L904 1255L904 1271L900 1271ZM927 1227L931 1230L931 1237L927 1235ZM935 1236L941 1236L941 1249L935 1249Z"/>
<path fill="#0557d3" d="M541 1276L546 1278L548 1287L543 1285ZM552 1233L557 1232L559 1239L554 1240ZM563 1261L568 1261L569 1268L564 1268ZM567 1254L571 1252L574 1265L570 1268ZM573 1264L580 1267L583 1278L576 1275ZM598 1264L605 1264L607 1270L600 1270ZM655 1259L659 1257L661 1266L657 1267ZM662 1288L666 1286L668 1293L664 1296ZM678 1275L683 1274L685 1282L680 1282ZM683 1277L688 1278L691 1289L686 1288ZM693 1242L698 1242L699 1248L694 1248ZM732 1252L738 1250L740 1264L734 1265ZM749 1295L754 1297L755 1305L750 1304ZM748 1240L755 1238L756 1246L749 1248ZM767 1239L772 1237L773 1251L768 1253ZM801 1291L807 1294L808 1303L802 1300ZM807 1236L812 1236L813 1250L808 1250ZM829 1275L834 1276L835 1288L830 1287ZM866 1253L871 1256L872 1270L867 1267ZM871 1228L875 1226L875 1240L871 1243ZM874 1227L878 1229L878 1238L874 1236ZM876 1268L880 1270L881 1283L877 1281ZM896 1249L900 1248L900 1258L896 1259ZM922 1248L927 1247L927 1257L922 1258ZM942 1214L949 1211L948 1225L941 1227ZM962 1220L967 1218L968 1226L963 1228ZM968 1238L973 1240L973 1249L968 1247Z"/>
<path fill="#acdaff" d="M675 1260L680 1262L683 1276L678 1275ZM680 1282L685 1280L688 1294L683 1297ZM772 1239L776 1236L777 1249L773 1252ZM783 1272L789 1272L790 1281L784 1281ZM817 1233L822 1234L823 1250L818 1250ZM823 1253L828 1252L829 1269L824 1270ZM844 1277L850 1275L851 1289L845 1291ZM973 1235L980 1235L980 1242L973 1241Z"/>
<path fill="#000588" d="M503 1276L507 1277L509 1286L505 1284ZM552 1262L558 1261L561 1273L555 1274ZM563 1238L567 1236L571 1252L567 1254ZM618 1268L625 1268L626 1278L619 1278ZM635 1289L640 1290L644 1306L639 1304ZM684 1304L689 1306L691 1314L686 1312ZM682 1245L689 1243L691 1255L684 1258ZM684 1258L691 1260L694 1277L687 1274ZM695 1260L700 1257L703 1273L698 1275ZM737 1287L743 1289L745 1301L739 1299ZM761 1250L768 1252L769 1266L762 1264ZM772 1278L777 1278L778 1288L773 1288ZM773 1252L777 1251L778 1265L774 1266ZM782 1253L788 1255L789 1268L783 1266ZM797 1249L803 1250L804 1261L798 1260ZM896 1225L900 1226L900 1237L896 1236ZM934 1215L940 1212L940 1221L934 1223ZM941 1242L948 1240L948 1246L941 1249ZM980 1226L985 1226L985 1236L980 1236ZM990 1226L997 1227L997 1235L990 1234Z"/>
<path fill="#0774e8" d="M412 1234L417 1232L420 1241L415 1244ZM467 1251L471 1249L473 1256L469 1257ZM479 1235L484 1232L486 1244L481 1246ZM498 1270L503 1270L505 1278L500 1277ZM632 1256L639 1254L642 1267L635 1269ZM651 1286L655 1288L659 1305L655 1302ZM647 1243L652 1245L655 1262L650 1259ZM650 1259L655 1262L657 1275L652 1272ZM656 1294L661 1293L663 1299L658 1301ZM691 1256L695 1257L697 1268L693 1267ZM710 1255L717 1255L718 1265L711 1264ZM736 1239L742 1240L744 1251L738 1250ZM755 1240L760 1239L761 1246L756 1246ZM808 1250L813 1250L814 1258L809 1257ZM934 1223L940 1221L941 1234L935 1236ZM958 1220L963 1218L963 1227L958 1228Z"/>
</g>
<g fill="none" stroke="#fff" stroke-width="3.3" stroke-dasharray="3.3 7.72">
<path d="M695.85 1307.85A616.0 616.0 0 1 1 695.86 1307.85" stroke-dashoffset="8.85"/>
<path d="M695.85 1162.75A470.9 470.9 0 1 1 695.86 1162.75" stroke-dashoffset="8.87"/>
<path d="M695.85 1010.15A318.3 318.3 0 1 1 695.86 1010.15" stroke-dashoffset="1.50"/>
<path d="M695.85 851.85A160.0 160.0 0 1 1 695.86 851.85" stroke-dashoffset="8.82"/>
<path d="M695.85 670.00L695.85 74.85M701.51 670.74L855.54 95.87M706.77 672.93L1004.35 157.51M711.30 676.40L1132.13 255.57M714.77 680.93L1230.19 383.35M716.96 686.19L1291.83 532.16M717.70 691.85L1312.85 691.85M716.96 697.51L1291.83 851.54M714.77 702.77L1230.19 1000.35M711.30 707.30L1132.13 1128.13M706.77 710.77L1004.35 1226.19M701.51 712.96L855.54 1287.83M695.85 713.70L695.85 1308.85M690.19 712.96L536.16 1287.83M684.93 710.77L387.35 1226.19M680.40 707.30L259.57 1128.13M676.93 702.77L161.51 1000.35M674.74 697.51L99.87 851.54M674.00 691.85L78.85 691.85M674.74 686.19L99.87 532.16M676.93 680.93L161.51 383.35M680.40 676.40L259.57 255.57M684.93 672.93L387.35 157.51M690.19 670.74L536.16 95.87"/>
</g>
<circle cx="695.85" cy="691.85" r="11.9" fill="none" stroke="#fff" stroke-width="3.4"/>
<path d="M378.70 660.34L60.00 628.68" stroke="#fff" stroke-width="4.3" stroke-dasharray="16.2 15.3" fill="none"/>
<path d="M554.55 677.81L697.35 692.00" stroke="#fff" stroke-width="4.3" stroke-dasharray="16.2 15.3" fill="none"/>
<path d="M695.85 692.85V1310" stroke="#da3c04" stroke-width="4.2" fill="none"/>
<text x="857.4" y="958.5" font-size="37" fill="#fff">+70<tspan x="919.3" y="954.6" font-size="28">°</tspan></text>
<text x="1037.4" y="1196.5" font-size="37" fill="#fff">+50<tspan x="1100.2" y="1192.5" font-size="28">°</tspan></text>
</g>
<text x="693.5" y="55.2" font-size="50" text-anchor="middle" fill="#000">24:00</text>
<text x="694.6" y="1362.1" font-size="51" text-anchor="middle" fill="#000" textLength="123.9" lengthAdjust="spacingAndGlyphs">12:00</text>
<text transform="translate(56.7 692.5) rotate(-90)" font-size="51.5" text-anchor="middle" fill="#000" textLength="124.3" lengthAdjust="spacingAndGlyphs">06:00</text>
<text transform="translate(1330.3 688) rotate(90)" font-size="51.5" text-anchor="middle" fill="#000" textLength="123" lengthAdjust="spacingAndGlyphs">18:00</text>
<text x="1315" y="984.6" font-size="37.8" fill="#000">kR H<tspan x="1398.6" y="989.8" font-size="16.2">2</tspan></text>
<rect x="1338.2" y="1000" width="47.8" height="307.6" fill="url(#cb)" stroke="#000" stroke-width="1.7"/>
<path d="M1337.4 1000.2H1386.8" stroke="#000" stroke-width="2.2"/>
<path d="M1338.2 1243.9h2.6M1386 1243.9h-2.6M1338.2 1207.4h2.6M1386 1207.4h-2.6M1338.2 1181.5h2.6M1386 1181.5h-2.6M1338.2 1161.4h2.6M1386 1161.4h-2.6M1338.2 1145.0h2.6M1386 1145.0h-2.6M1338.2 1131.1h2.6M1386 1131.1h-2.6M1338.2 1119.1h2.6M1386 1119.1h-2.6M1338.2 1108.5h2.6M1386 1108.5h-2.6M1338.2 1099.0h4.2M1386 1099.0h-4.2M1338.2 1036.6h2.6M1386 1036.6h-2.6M1340.59 1000v2.0M1342.98 1000v2.0M1345.37 1000v2.0M1347.76 1000v3.8M1350.15 1000v2.0M1352.54 1000v2.0M1354.93 1000v2.0M1357.32 1000v3.8M1359.71 1000v2.0M1362.10 1000v2.0M1364.49 1000v2.0M1366.88 1000v3.8M1369.27 1000v2.0M1371.66 1000v2.0M1374.05 1000v2.0M1376.44 1000v3.8M1378.83 1000v2.0M1381.22 1000v2.0M1383.61 1000v2.0" stroke="#000" stroke-width="1.3" fill="none"/>
<text x="1395.2" y="1109" font-size="29" fill="#000">10</text>
<text x="1394.3" y="1307.3" font-size="29" fill="#000">1</text>
</svg>
</body></html>
